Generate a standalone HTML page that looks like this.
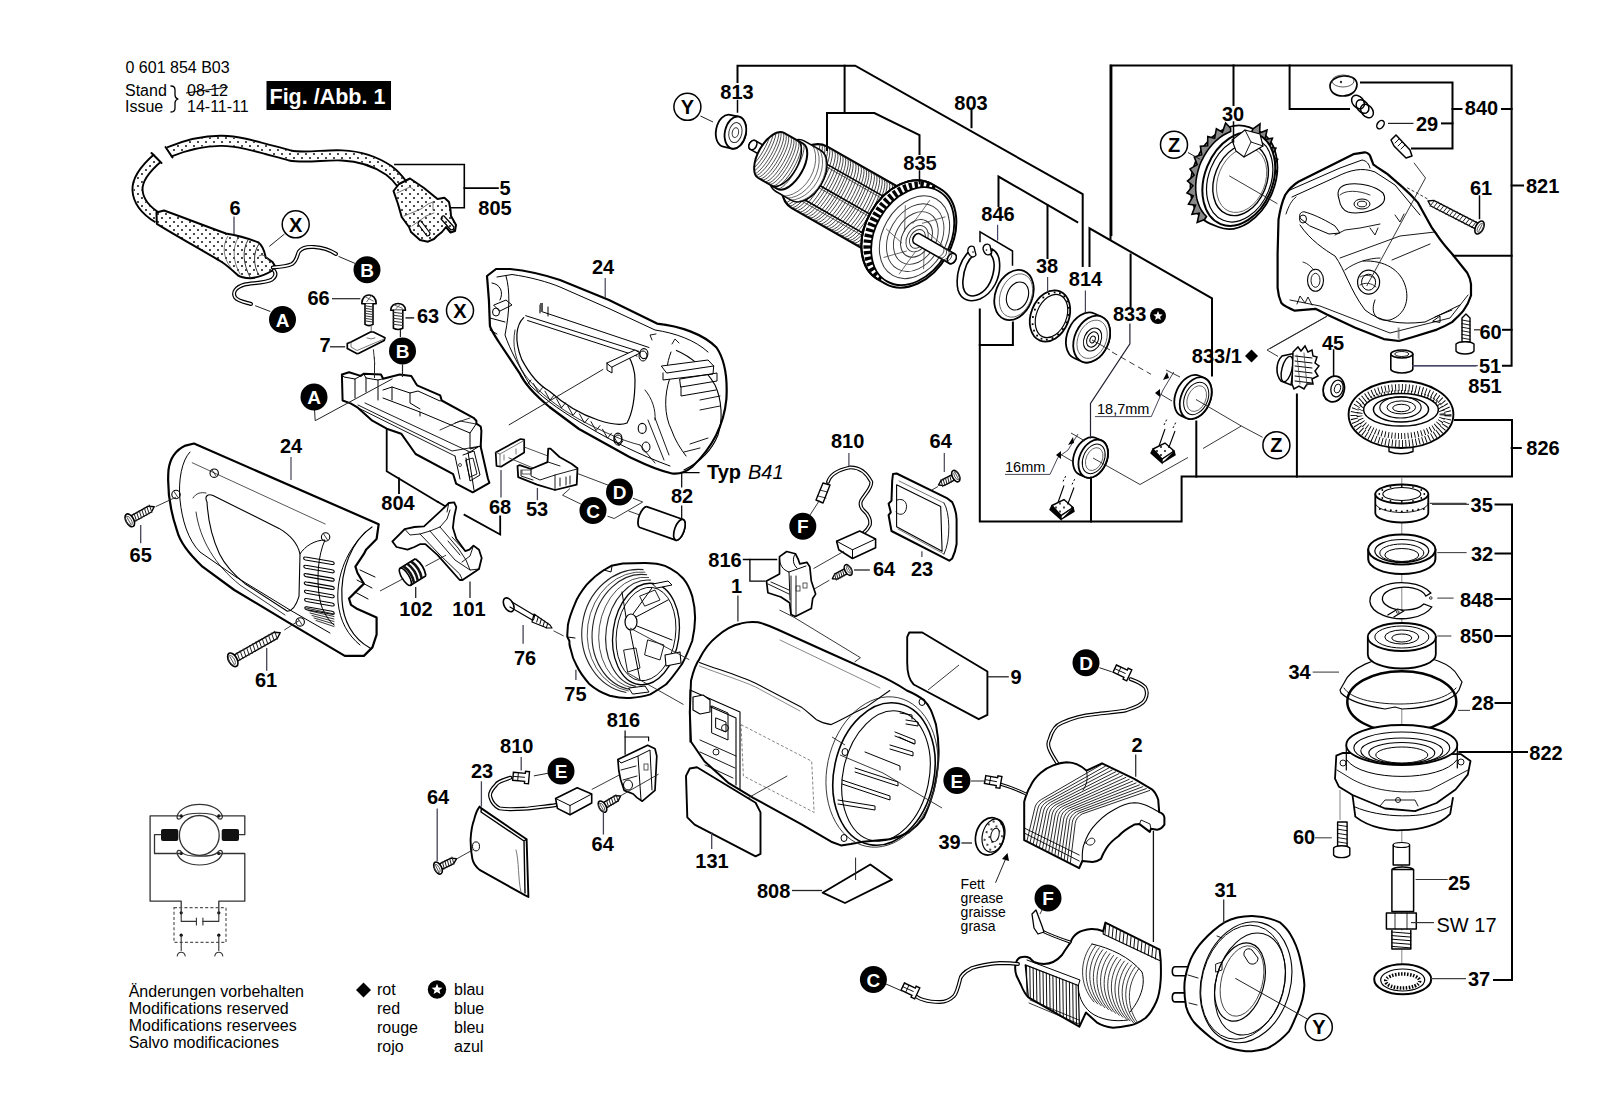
<!DOCTYPE html><html><head><meta charset="utf-8"><style>html,body{margin:0;padding:0;background:#fff;}svg{display:block;}text{font-family:"Liberation Sans",sans-serif;}</style></head><body>
<svg width="1600" height="1107" viewBox="0 0 1600 1107">
<defs>
<pattern id="dots" width="8" height="8" patternUnits="userSpaceOnUse"><circle cx="2" cy="2" r="0.95" fill="#000"/><circle cx="6" cy="6" r="0.95" fill="#000"/></pattern>
<pattern id="dots2" width="8" height="8" patternUnits="userSpaceOnUse"><circle cx="2" cy="2" r="0.95" fill="#000"/><circle cx="6" cy="6" r="0.95" fill="#000"/></pattern>
</defs>
<rect width="1600" height="1107" fill="#fff"/>
<path d="M487,276 L496,269 L510,269 C530,271 548,276 560,280 L609,300 L657,323.6 C680,326 703,334 716.5,347.5 C725,360 727.5,380 726.4,399 C724,425 712,448 692,467 C686,472 680,474.5 672,473.5 C655,470 640,462 629,456.8 L579,429 L549.5,407 C535,395 525,385 519.7,373.3 L499.8,343.5 C493,333 490,328 489.9,325.6 L488.9,299.8 Z" fill="#fff" stroke="#000" stroke-width="2.2" stroke-linejoin="round" stroke-linecap="round" />
<path d="M497,277 L512,274.5 C530,277 548,282 560,287 L610,309 L655,330 C675,333 695,340 708,352" fill="none" stroke="#000" stroke-width="1.0" stroke-linejoin="round" stroke-linecap="round" />
<path d="M506,276 C510,290 510,310 505,335 C510,350 520,368 530,385 C545,400 565,414 590,428 C610,440 640,455 670,466" fill="none" stroke="#000" stroke-width="1.0" stroke-linejoin="round" stroke-linecap="round" />
<path d="M523.7,317.6 C516,325 514,340 521.7,359.4 C530,375 540,386 549.5,391.2 C565,405 580,414 598,420 C610,424 620,426 627,423 C633,412 635,395 635,380 C635,370 632,362 628,355" fill="none" stroke="#000" stroke-width="1.2" stroke-linejoin="round" stroke-linecap="round" />
<path d="M515,330 C512,345 515,360 525,375 C538,392 560,410 590,425 C605,432 620,440 640,445" fill="none" stroke="#000" stroke-width="0.8" stroke-linejoin="round" stroke-linecap="round" />
<path d="M525.7,315.7 L639,351.4 M527.6,320.5 L637,356 M540,311 L649,347.5 M540,305 L540,313 M548,307 L548,316" fill="none" stroke="#000" stroke-width="1.0" stroke-linejoin="round" stroke-linecap="round" />
<path d="M607,363 L635,350 L640,353 L612,367 Z" fill="#fff" stroke="#000" stroke-width="1.0" stroke-linejoin="round" stroke-linecap="round" />
<path d="M607,363 L607,370 L612,373 L612,367" fill="none" stroke="#000" stroke-width="1.0" stroke-linejoin="round" stroke-linecap="round" />
<ellipse cx="643" cy="356" rx="4" ry="5" transform="rotate(0 643 356)" fill="none" stroke="#000" stroke-width="1.0" />
<ellipse cx="646" cy="447" rx="4" ry="5" transform="rotate(0 646 447)" fill="none" stroke="#000" stroke-width="1.0" />
<ellipse cx="618" cy="440" rx="4" ry="5" transform="rotate(0 618 440)" fill="none" stroke="#000" stroke-width="1.0" />
<path d="M492,283 C500,284 504,292 500,300 M494,305 L506,300 L512,305 L500,311 Z" fill="none" stroke="#000" stroke-width="1.0" stroke-linejoin="round" stroke-linecap="round" />
<ellipse cx="496" cy="312" rx="3.5" ry="4" transform="rotate(0 496 312)" fill="none" stroke="#000" stroke-width="1.0" />
<path d="M490,318 L505,322 M490,330 L497,334" fill="none" stroke="#000" stroke-width="1.0" stroke-linejoin="round" stroke-linecap="round" />
<rect x="540" y="303" width="3" height="9" fill="#555"/>
<path d="M522.0,376.0 L527.0,385.0 L531.0,380.0" fill="none" stroke="#000" stroke-width="0.9" stroke-linejoin="round" stroke-linecap="round" />
<path d="M533.5,383.6 L538.5,392.6 L542.5,387.6" fill="none" stroke="#000" stroke-width="0.9" stroke-linejoin="round" stroke-linecap="round" />
<path d="M545.0,391.2 L550.0,400.2 L554.0,395.2" fill="none" stroke="#000" stroke-width="0.9" stroke-linejoin="round" stroke-linecap="round" />
<path d="M556.5,398.8 L561.5,407.8 L565.5,402.8" fill="none" stroke="#000" stroke-width="0.9" stroke-linejoin="round" stroke-linecap="round" />
<path d="M568.0,406.4 L573.0,415.4 L577.0,410.4" fill="none" stroke="#000" stroke-width="0.9" stroke-linejoin="round" stroke-linecap="round" />
<path d="M579.5,414.0 L584.5,423.0 L588.5,418.0" fill="none" stroke="#000" stroke-width="0.9" stroke-linejoin="round" stroke-linecap="round" />
<path d="M591.0,421.6 L596.0,430.6 L600.0,425.6" fill="none" stroke="#000" stroke-width="0.9" stroke-linejoin="round" stroke-linecap="round" />
<path d="M602.5,429.2 L607.5,438.2 L611.5,433.2" fill="none" stroke="#000" stroke-width="0.9" stroke-linejoin="round" stroke-linecap="round" />
<path d="M614.0,436.8 L619.0,445.8 L623.0,440.8" fill="none" stroke="#000" stroke-width="0.9" stroke-linejoin="round" stroke-linecap="round" />
<path d="M676.4,350.4 C690,356 705,368 715,385 C722,400 723,420 718,435 C712,450 700,462 684,470" fill="none" stroke="#000" stroke-width="1.1" stroke-linejoin="round" stroke-linecap="round" />
<path d="M671,352 C666,365 665,380 669.9,378 M669.9,378 C664,395 664,415 671.5,430 C675,440 680,448 686,456" fill="none" stroke="#000" stroke-width="1.0" stroke-linejoin="round" stroke-linecap="round" />
<path d="M661.7,366 L708,360 L713.7,366 L667,373 Z M663,373 L663,380 L713,374 L713.7,366" fill="#fff" stroke="#000" stroke-width="1.0" stroke-linejoin="round" stroke-linecap="round" />
<path d="M680,379 L717,373 L717,381 L681,387 Z M681,387 L681,396 L716,390" fill="none" stroke="#000" stroke-width="1.0" stroke-linejoin="round" stroke-linecap="round" />
<path d="M700,400 L720,396 M700,410 L720,406 M690,444 L708,438 M684,452 L700,448" fill="none" stroke="#000" stroke-width="0.9" stroke-linejoin="round" stroke-linecap="round" />
<path d="M652,340 L650,335 L656,334 M672,344 L675,339 L679,343" fill="none" stroke="#000" stroke-width="0.9" stroke-linejoin="round" stroke-linecap="round" />
<ellipse cx="643.9" cy="353.6" rx="4" ry="5" transform="rotate(0 643.9 353.6)" fill="none" stroke="#000" stroke-width="1.1" />
<ellipse cx="642.2" cy="428.4" rx="4" ry="5" transform="rotate(0 642.2 428.4)" fill="none" stroke="#000" stroke-width="1.1" />
<ellipse cx="617.9" cy="438.1" rx="4" ry="5" transform="rotate(0 617.9 438.1)" fill="none" stroke="#000" stroke-width="1.1" />
<path d="M648,420 L664,460 M655,418 L669,455 M640,445 L655,463" fill="none" stroke="#000" stroke-width="0.9" stroke-linejoin="round" stroke-linecap="round" />
<path d="M645,390 C652,398 656,410 655,420" fill="none" stroke="#000" stroke-width="0.9" stroke-linejoin="round" stroke-linecap="round" />
<path d="M605.2,278.0 L605.2,298.0" fill="none" stroke="#445" stroke-width="1.2" stroke-linecap="butt" />
<path d="M603.2,369.3 L508.8,425.0" fill="none" stroke="#222" stroke-width="1.0" stroke-linecap="butt" />
<path d="M185.5,445.6 L194,443.5 L378.7,524.2 L376.6,539 L366,549.7 L363.9,553.9 L355.4,566.7 L357.5,573 L363.9,583.7 L359.6,587.9 L349,598.5 L351,604.9 L357.5,609.1 L376.6,617.6 L376.6,634.6 L372.4,647.4 L363.9,655.9 L344.8,655.9 L287.4,621.9 L234.3,590 L202.5,566.7 C190,555 180,543 177,530.6 C170,510 167,490 168.5,470 C170,458 176,450 185.5,445.6 Z" fill="#fff" stroke="#000" stroke-width="2.2" stroke-linejoin="round" stroke-linecap="round" />
<path d="M190,452 C182,460 178,480 180,500 C182,520 188,540 200,552 L236,577 L290,610 L330,633" fill="none" stroke="#000" stroke-width="1.0" stroke-linejoin="round" stroke-linecap="round" />
<path d="M207,502 C204,496 208,493.5 213,495.5 L279,528.4 C292,536 298,545 300,553.9 L299,596.4 C296,606 292,611 287.4,611.3 L245,583.7 C232,573 225,565 219.5,553.9 C212,538 208,520 207,502 Z" fill="none" stroke="#000" stroke-width="1.1" stroke-linejoin="round" stroke-linecap="round" />
<path d="M193,498 C196,493 201,492 206,493 M196,512 C200,540 215,565 240,585 L285,615" fill="none" stroke="#000" stroke-width="0.8" stroke-linejoin="round" stroke-linecap="round" />
<path d="M191.9,462.6 L325.6,524.2" fill="none" stroke="#444" stroke-width="0.9" stroke-linecap="butt" />
<ellipse cx="214.2" cy="473.2" rx="4.2" ry="4.2" transform="rotate(0 214.2 473.2)" fill="none" stroke="#000" stroke-width="1.1" />
<path d="M212.2,470.2 L216.2,476.2" fill="none" stroke="#000" stroke-width="0.8" stroke-linejoin="round" stroke-linecap="round" />
<ellipse cx="325.6" cy="537" rx="4.2" ry="4.2" transform="rotate(0 325.6 537)" fill="none" stroke="#000" stroke-width="1.1" />
<path d="M323.6,534 L327.6,540" fill="none" stroke="#000" stroke-width="0.8" stroke-linejoin="round" stroke-linecap="round" />
<ellipse cx="300.2" cy="621.9" rx="4.2" ry="4.2" transform="rotate(0 300.2 621.9)" fill="none" stroke="#000" stroke-width="1.1" />
<path d="M298.2,618.9 L302.2,624.9" fill="none" stroke="#000" stroke-width="0.8" stroke-linejoin="round" stroke-linecap="round" />
<ellipse cx="176" cy="494.5" rx="4.2" ry="4.2" transform="rotate(0 176 494.5)" fill="none" stroke="#000" stroke-width="1.1" />
<path d="M174,491.5 L178,497.5" fill="none" stroke="#000" stroke-width="0.8" stroke-linejoin="round" stroke-linecap="round" />
<path d="M300,553.9 C305,546 315,540 325,540 C318,555 316,580 320,600 C322,612 330,622 334,625" fill="none" stroke="#000" stroke-width="1.0" stroke-linejoin="round" stroke-linecap="round" />
<path d="M305.5,557.0 L332,561.5 C335,562.0 335,565.0 332,564.5 L305.5,560.0 C303.0,559.5 303.0,556.5 305.5,557.0 Z" fill="none" stroke="#000" stroke-width="1.1" stroke-linejoin="round" stroke-linecap="round" />
<path d="M305.7,565.3 L332,569.8 C335,570.3 335,573.3 332,572.8 L305.7,568.3 C303.2,567.8 303.2,564.8 305.7,565.3 Z" fill="none" stroke="#000" stroke-width="1.1" stroke-linejoin="round" stroke-linecap="round" />
<path d="M305.9,573.6 L332,578.1 C335,578.6 335,581.6 332,581.1 L305.9,576.6 C303.4,576.1 303.4,573.1 305.9,573.6 Z" fill="none" stroke="#000" stroke-width="1.1" stroke-linejoin="round" stroke-linecap="round" />
<path d="M306.1,581.9 L332,586.4 C335,586.9 335,589.9 332,589.4 L306.1,584.9 C303.6,584.4 303.6,581.4 306.1,581.9 Z" fill="none" stroke="#000" stroke-width="1.1" stroke-linejoin="round" stroke-linecap="round" />
<path d="M306.3,590.2 L332,594.7 C335,595.2 335,598.2 332,597.7 L306.3,593.2 C303.8,592.7 303.8,589.7 306.3,590.2 Z" fill="none" stroke="#000" stroke-width="1.1" stroke-linejoin="round" stroke-linecap="round" />
<path d="M306.5,598.5 L332,603.0 C335,603.5 335,606.5 332,606.0 L306.5,601.5 C304.0,601.0 304.0,598.0 306.5,598.5 Z" fill="none" stroke="#000" stroke-width="1.1" stroke-linejoin="round" stroke-linecap="round" />
<path d="M306.7,606.8 L332,611.3 C335,611.8 335,614.8 332,614.3 L306.7,609.8 C304.2,609.3 304.2,606.3 306.7,606.8 Z" fill="none" stroke="#000" stroke-width="1.1" stroke-linejoin="round" stroke-linecap="round" />
<path d="M306,608.0 L334,614.0" fill="none" stroke="#000" stroke-width="0.8" stroke-linejoin="round" stroke-linecap="round" />
<path d="M308,610.5 L334,616.5" fill="none" stroke="#000" stroke-width="0.8" stroke-linejoin="round" stroke-linecap="round" />
<path d="M310,613.0 L334,619.0" fill="none" stroke="#000" stroke-width="0.8" stroke-linejoin="round" stroke-linecap="round" />
<path d="M312,615.5 L334,621.5" fill="none" stroke="#000" stroke-width="0.8" stroke-linejoin="round" stroke-linecap="round" />
<path d="M314,618.0 L334,624.0" fill="none" stroke="#000" stroke-width="0.8" stroke-linejoin="round" stroke-linecap="round" />
<path d="M316,620.5 L334,626.5" fill="none" stroke="#000" stroke-width="0.8" stroke-linejoin="round" stroke-linecap="round" />
<path d="M372,527 C352,540 340,570 342,600 C343,620 352,638 370,648" fill="none" stroke="#000" stroke-width="1.2" stroke-linejoin="round" stroke-linecap="round" />
<path d="M366,532 C348,548 336,575 338,602 C340,622 348,635 360,645" fill="none" stroke="#000" stroke-width="1.0" stroke-linejoin="round" stroke-linecap="round" />
<path d="M360,570 L375,577 M357,580 L372,588 M355,592 L368,599" fill="none" stroke="#000" stroke-width="1.0" stroke-linejoin="round" stroke-linecap="round" />
<path d="M291.0,457.0 L291.0,480.0" fill="none" stroke="#445" stroke-width="1.2" stroke-linecap="butt" />
<path d="M341.9,374.5 L349.1,372.3 L360.7,375.9 L363.6,373.7 L381,374.5 L383.1,378.8 L399.7,374.5 L411.3,375.9 L415.6,383.1 L417.1,385.3 L440.2,395.4 L441.7,400.5 L473.5,417.8 L476.4,420.7 L476.4,423.6 L480.7,426.5 L481.4,430.8 L480.7,446.7 L487.9,478.5 L489.4,482.9 L472.7,492.3 L456.1,483.6 L453.2,474.2 L415.6,454 L401.2,433.7 L386.7,428.7 L372.3,420.7 L357.8,407.7 L350.6,403.4 L342.6,400.5 Z" fill="#fff" stroke="#000" stroke-width="2.0" stroke-linejoin="round" stroke-linecap="round" />
<path d="M341.9,374.5 L344,377 L355,379 L355,398 M355,379 L360.7,375.9" fill="none" stroke="#000" stroke-width="1.0" stroke-linejoin="round" stroke-linecap="round" />
<path d="M363.6,373.7 L366,378 L378,380 L383,378.8 M366,378 L366,392 M378,380 L378,400" fill="none" stroke="#000" stroke-width="1.0" stroke-linejoin="round" stroke-linecap="round" />
<path d="M383,390 L392,387 L410,393 L418,391 L440,401 L441.7,400.5 M392,387 L392,400 M410,393 L410,403 L420,409" fill="none" stroke="#000" stroke-width="1.0" stroke-linejoin="round" stroke-linecap="round" />
<path d="M383,398 L420,412 L420,416 M420,412 L470,433 L476.4,423.6 M470,433 L470,449 L481,446" fill="none" stroke="#000" stroke-width="1.0" stroke-linejoin="round" stroke-linecap="round" />
<path d="M358,405 L452,451 L481,446 M357.8,407.7 L455,456 M365,403 L470,452" fill="none" stroke="#000" stroke-width="0.9" stroke-linejoin="round" stroke-linecap="round" />
<path d="M455,456 L460,479 M468,452 L474,490 M470,452 L478,447 M463,455 L474,451 L480,475 L470,481 L466,458" fill="none" stroke="#000" stroke-width="1.0" stroke-linejoin="round" stroke-linecap="round" />
<path d="M466,460 L473,458 L477,474 L470,477 Z" fill="none" stroke="#000" stroke-width="0.9" stroke-linejoin="round" stroke-linecap="round" />
<path d="M440,430 L460,421 L476,424 M455,423 L470,418" fill="none" stroke="#000" stroke-width="0.8" stroke-linejoin="round" stroke-linecap="round" />
<circle cx="460" cy="465" r="1.5" fill="none" stroke="#000" stroke-width="0.7"/>
<path d="M314.5,409.0 L315.2,420.7 L392.5,378.8" fill="none" stroke="#222" stroke-width="1.0" stroke-linecap="butt" />
<path d="M402.5,364.5 L402.5,377.0" fill="none" stroke="#222" stroke-width="1.2" stroke-linecap="butt" />
<path d="M374.5,357.0 L374.5,378.0" fill="none" stroke="#222" stroke-width="1.0" stroke-linecap="butt" />
<path d="M386.7,429.4 L386.7,471.3 L438.0,502.0" fill="none" stroke="#000" stroke-width="1.8" stroke-linejoin="miter" stroke-linecap="square"/>
<path d="M464.5,514.8 L500.2,534.5 L500.2,516.5" fill="none" stroke="#000" stroke-width="1.8" stroke-linejoin="miter" stroke-linecap="square"/>
<path d="M399.0,478.5 L399.0,493.0" fill="none" stroke="#000" stroke-width="1.8" stroke-linejoin="miter" stroke-linecap="square"/>
<path d="M438.0,502.0 L450.0,509.0" fill="none" stroke="#000" stroke-width="1.8" stroke-linejoin="miter" stroke-linecap="square"/>
<path d="M361.8,303.8 C361.8,292 376.2,292 376.2,303.8 Z" fill="#fff" stroke="#000" stroke-width="1.6" stroke-linejoin="round" stroke-linecap="round" />
<path d="M365.4,296.78 L373.32,301.1 M366.84,301.64 L371.16,295.7" fill="none" stroke="#555" stroke-width="0.9" stroke-linejoin="round" stroke-linecap="round" />
<path d="M365.0,303.8 L365.0,324.40000000000003 Q369,326.90000000000003 373.0,324.40000000000003 L373.0,303.8" fill="#fff" stroke="#000" stroke-width="1.6" stroke-linejoin="round" stroke-linecap="round" />
<path d="M365.0,305.8 L373.0,307.0" fill="none" stroke="#333" stroke-width="1.0" stroke-linejoin="round" stroke-linecap="round" />
<path d="M365.0,308.31428571428575 L373.0,309.51428571428573" fill="none" stroke="#333" stroke-width="1.0" stroke-linejoin="round" stroke-linecap="round" />
<path d="M365.0,310.8285714285714 L373.0,312.0285714285714" fill="none" stroke="#333" stroke-width="1.0" stroke-linejoin="round" stroke-linecap="round" />
<path d="M365.0,313.34285714285716 L373.0,314.54285714285714" fill="none" stroke="#333" stroke-width="1.0" stroke-linejoin="round" stroke-linecap="round" />
<path d="M365.0,315.8571428571429 L373.0,317.0571428571429" fill="none" stroke="#333" stroke-width="1.0" stroke-linejoin="round" stroke-linecap="round" />
<path d="M365.0,318.37142857142857 L373.0,319.57142857142856" fill="none" stroke="#333" stroke-width="1.0" stroke-linejoin="round" stroke-linecap="round" />
<path d="M365.0,320.8857142857143 L373.0,322.0857142857143" fill="none" stroke="#333" stroke-width="1.0" stroke-linejoin="round" stroke-linecap="round" />
<path d="M390.70000000000005,310.3 C390.70000000000005,301.3 405.5,301.3 405.5,310.3 Z" fill="#fff" stroke="#000" stroke-width="1.6" stroke-linejoin="round" stroke-linecap="round" />
<path d="M394.40000000000003,305.1 L402.54,308.3 M395.88,308.7 L400.32000000000005,304.3" fill="none" stroke="#555" stroke-width="0.9" stroke-linejoin="round" stroke-linecap="round" />
<path d="M393.40000000000003,310.3 L393.40000000000003,328.3 Q398.1,330.8 402.8,328.3 L402.8,310.3" fill="#fff" stroke="#000" stroke-width="1.6" stroke-linejoin="round" stroke-linecap="round" />
<path d="M393.40000000000003,312.3 L402.8,313.5" fill="none" stroke="#333" stroke-width="1.0" stroke-linejoin="round" stroke-linecap="round" />
<path d="M393.40000000000003,315.3 L402.8,316.5" fill="none" stroke="#333" stroke-width="1.0" stroke-linejoin="round" stroke-linecap="round" />
<path d="M393.40000000000003,318.3 L402.8,319.5" fill="none" stroke="#333" stroke-width="1.0" stroke-linejoin="round" stroke-linecap="round" />
<path d="M393.40000000000003,321.3 L402.8,322.5" fill="none" stroke="#333" stroke-width="1.0" stroke-linejoin="round" stroke-linecap="round" />
<path d="M393.40000000000003,324.3 L402.8,325.5" fill="none" stroke="#333" stroke-width="1.0" stroke-linejoin="round" stroke-linecap="round" />
<path d="M332.0,298.7 L360.3,298.7" fill="none" stroke="#222" stroke-width="1.2" stroke-linecap="butt" />
<path d="M405.5,317.9 L414.2,317.9" fill="none" stroke="#222" stroke-width="1.5" stroke-linecap="butt" />
<path d="M400.4,329.8 L400.4,337.0" fill="none" stroke="#222" stroke-width="1.2" stroke-linecap="butt" />
<path d="M371.2,325.5 L371.2,338.5" fill="none" stroke="#666" stroke-width="1.0" stroke-linecap="butt" />
<path d="M373.4,349.3 L374.8,364.5" fill="none" stroke="#333" stroke-width="1.0" stroke-linecap="butt" />
<path d="M330.0,346.8 L345.2,346.8" fill="none" stroke="#222" stroke-width="1.3" stroke-linecap="butt" />
<path d="M347.3,343.5 L351,342 L370.5,332 L373.4,332 L385,337.7 L384.2,340.6 L358.9,353.3 L356.7,353.6 L347.3,348.6 Z" fill="#fff" stroke="#000" stroke-width="1.7" stroke-linejoin="round" stroke-linecap="round" />
<path d="M351,342 L351,347 L357,350.5 L384,339" fill="none" stroke="#555" stroke-width="0.8" stroke-linejoin="round" stroke-linecap="round" />
<path d="M367,338 Q371,340 375,338" fill="none" stroke="#555" stroke-width="0.8" stroke-linejoin="round" stroke-linecap="round" />
<path d="M448.8,503 L454.2,502.3 L456.3,507.1 L454.2,516.7 L452.9,527.7 L456.3,538.7 L465.2,551.1 L469.4,549.7 L473.5,545.6 L479,549.7 L481.7,558 L479,569 L462.5,580 L459.7,580 L437.7,555.2 L425.4,544.2 L419.9,544.2 L414.4,547 L407.5,549.7 L396.5,547 L392.4,541.5 L404.7,529.1 L414.4,527 L424,526.4 L440.5,511.2 Z" fill="#fff" stroke="#000" stroke-width="1.8" stroke-linejoin="round" stroke-linecap="round" />
<path d="M404.7,529.1 L410,535 L420,534 L430,531 L440,527 L447,519 L450,510 M448.8,503 L447,512" fill="none" stroke="#000" stroke-width="0.9" stroke-linejoin="round" stroke-linecap="round" />
<path d="M420,534 L440,555 L459.7,574 L462.5,580 M430,531 L455,560 L470,570 M440,527 L458,548 L466,560 L470,570 L479,569" fill="none" stroke="#000" stroke-width="0.9" stroke-linejoin="round" stroke-linecap="round" />
<path d="M448,541 L460,555 M452,537 L465,551 M462,562 L470,556 L473.5,545.6" fill="none" stroke="#000" stroke-width="0.9" stroke-linejoin="round" stroke-linecap="round" />
<path d="M425.4,566.2 L446.0,555.2" fill="none" stroke="#222" stroke-width="0.9" stroke-linecap="butt" />
<g transform="translate(413,572) rotate(-32)"><path d="M-9,-8 L9,-8 L9,8 L-9,8 Z" fill="#fff" stroke="none"/><ellipse cx="-9" cy="0" rx="3.5" ry="10" fill="none" stroke="#000" stroke-width="1.6"/><path d="M-9,-10 L9,-10 M-9,10 L9,10" stroke="#000" stroke-width="1.6"/><path d="M-5,-10 Q-1,0 -5,10 M-0.5,-10 Q3.5,0 -0.5,10 M4,-10 Q8,0 4,10" fill="none" stroke="#111" stroke-width="2.6"/><path d="M9,-10 Q13,0 9,10" fill="none" stroke="#000" stroke-width="1.8"/></g>
<path d="M403.4,578.6 L380.0,591.0" fill="none" stroke="#222" stroke-width="0.9" stroke-linecap="butt" />
<path d="M415.7,586.9 L415.7,597.9" fill="none" stroke="#222" stroke-width="1.3" stroke-linecap="butt" />
<path d="M470.0,581.4 L470.0,597.9" fill="none" stroke="#222" stroke-width="1.3" stroke-linecap="butt" />
<path d="M495.7,452.5 L520.5,439 L524.2,439.7 L524.2,452.5 L501,466.7 L496.5,466 Z" fill="#fff" stroke="#000" stroke-width="1.7" stroke-linejoin="round" stroke-linecap="round" />
<path d="M495.7,452.5 L500,454 L500,466 M500,454 L524,440.5" fill="none" stroke="#555" stroke-width="0.8" stroke-linejoin="round" stroke-linecap="round" />
<path d="M504,455 L504,460 M516,449 L516,454" fill="none" stroke="#555" stroke-width="0.8" stroke-linejoin="round" stroke-linecap="round" />
<path d="M508.5,457.7 L533.0,468.0" fill="none" stroke="#222" stroke-width="0.8" stroke-linecap="butt" />
<path d="M524.2,447.0 L548.0,456.0" fill="none" stroke="#222" stroke-width="0.8" stroke-linecap="butt" />
<path d="M501.0,470.0 L501.0,497.5" fill="none" stroke="#445" stroke-width="1.3" stroke-linecap="butt" />
<path d="M517.5,466 L519.7,465.2 L531,469 L547.5,462.2 L548.2,448.7 L550.5,448.7 L559.5,457 L571.5,463.7 L577.5,468.2 L576.7,484.7 L555,490 L537,484.7 L518.2,477.2 Z" fill="#fff" stroke="#000" stroke-width="1.8" stroke-linejoin="round" stroke-linecap="round" />
<path d="M531,469 L531,476 L540,480 L555,475 L577,469 M555,475 L555,490 M521,470 L521,476 L533,480" fill="none" stroke="#000" stroke-width="0.9" stroke-linejoin="round" stroke-linecap="round" />
<path d="M560,478 L560,486 M566,477 L566,485 M570,476 L570,484 M548,462 L560,466" fill="none" stroke="#000" stroke-width="0.9" stroke-linejoin="round" stroke-linecap="round" />
<rect x="522" y="470" width="9" height="4" fill="none" stroke="#333" stroke-width="0.8"/>
<path d="M537.4,487.9 L537.4,500.2" fill="none" stroke="#445" stroke-width="1.3" stroke-linecap="butt" />
<path d="M577.5,473.5 L609.0,485.5" fill="none" stroke="#222" stroke-width="0.9" stroke-linecap="butt" />
<path d="M570.0,488.5 L562.5,495.2 L581.2,504.2" fill="none" stroke="#222" stroke-width="0.9" stroke-linecap="butt" />
<path d="M633.0,498.2 L642.7,502.0 L614.2,518.5 L607.5,516.2" fill="none" stroke="#222" stroke-width="0.9" stroke-linecap="butt" />
<path d="M628.5,511.0 L639.0,514.7" fill="none" stroke="#222" stroke-width="0.9" stroke-linecap="butt" />
<path d="M647.3,506.8 L683.1,519.5 A4.8,11 19.5 0 1 675.7,540.2 L639.9,527.5 A4.8,11 19.5 0 1 647.3,506.8 Z" fill="#fff" stroke="#000" stroke-width="1.8" stroke-linejoin="round" stroke-linecap="round" />
<ellipse cx="679.4" cy="529.8" rx="4.8" ry="11" transform="rotate(19.5 679.4 529.8)" fill="#fff" stroke="#000" stroke-width="1.7" />
<path d="M681.7,487.0 L681.7,472.7 L699.0,472.7" fill="none" stroke="#000" stroke-width="1.2" stroke-linejoin="miter" stroke-linecap="square"/>
<path d="M681.7,506.0 L681.7,518.0" fill="none" stroke="#000" stroke-width="1.2" stroke-linejoin="miter" stroke-linecap="square"/>
<path d="M611.3,565.8 L604,570 C596,575 591,580 586.7,584.6 C580,593 577,598 575.1,603.4 C571,613 569,619 567.9,625 L567.2,636.6 L569.4,641 C569,645 570,647 570.8,649.6 C572,656 574,661 576.6,665.5 C580,673 585,679 589.6,684.3 C596,690 602,693 609.8,695.8 C617,697.5 623,698.5 630,698 C637,697.5 644,696.5 650.3,694.4 C656,691 661,688 666.2,684.3 C672,678 677,671 682,664 C686,657 689,649 692.2,641 C694,633 695,626 695.1,617.8 C695,610 694,603 692.2,596.1 C690,589 687,583 683.5,578.8 C679,574 675,571 670.5,568.7 C667,566.5 663,565 659,564.3 C654,563 649,563 644.5,562.9 L622.8,563.6 Z" fill="#fff" stroke="#000" stroke-width="2.0" stroke-linejoin="round" stroke-linecap="round" />
<ellipse cx="646" cy="634" rx="33" ry="51" transform="rotate(8 646 634)" fill="none" stroke="#000" stroke-width="1.3" />
<ellipse cx="646" cy="634" rx="29.5" ry="47" transform="rotate(8 646 634)" fill="none" stroke="#000" stroke-width="0.9" />
<path d="M650.8,580.1 A38.4,53.7 8 0 0 635.8,686.4" fill="none" stroke="#222" stroke-width="1.1"/>
<path d="M649.0,577.5 A42.6,55.8 8 0 0 633.4,688.0" fill="none" stroke="#222" stroke-width="0.8"/>
<path d="M647.1,574.8 A46.8,57.9 8 0 0 631.1,689.5" fill="none" stroke="#222" stroke-width="1.1"/>
<path d="M645.3,572.2 A51.0,60.0 8 0 0 628.7,691.0" fill="none" stroke="#222" stroke-width="0.8"/>
<path d="M643.5,569.6 A55.2,62.1 8 0 0 626.3,692.5" fill="none" stroke="#222" stroke-width="1.1"/>
<ellipse cx="631" cy="622" rx="6" ry="8" transform="rotate(0 631 622)" fill="#fff" stroke="#000" stroke-width="1.2" />
<path d="M636,617 L668,600 M637,626 L672,640 M630,630 L640,680 M626,617 L622,592 M633,614 L652,588" fill="none" stroke="#000" stroke-width="1.0" stroke-linejoin="round" stroke-linecap="round" />
<path d="M640,596 L655,590 L660,600 L645,606 Z M648,640 L664,645 L660,660 L645,655 Z M624,650 L636,648 L640,668 L628,672 Z" fill="none" stroke="#000" stroke-width="0.9" stroke-linejoin="round" stroke-linecap="round" />
<path d="M653,584 L668,581 L672,585 L657,588 Z M629,688 L645,686 L649,692 L633,694 Z" fill="#fff" stroke="#000" stroke-width="1.0" stroke-linejoin="round" stroke-linecap="round" />
<path d="M665,655 L680,652 L681,663 L666,666 Z" fill="#fff" stroke="#000" stroke-width="1.1" stroke-linejoin="round" stroke-linecap="round" />
<path d="M567.5,637 L575,638 M604,570 L611,572 L612,566" fill="none" stroke="#000" stroke-width="1.0" stroke-linejoin="round" stroke-linecap="round" />
<ellipse cx="508.7" cy="604.8" rx="4.5" ry="7.5" transform="rotate(-30 508.7 604.8)" fill="#fff" stroke="#000" stroke-width="1.6" />
<path d="M512,602 L537,617 M510,607 L534,621" fill="none" stroke="#000" stroke-width="1.2" stroke-linejoin="round" stroke-linecap="round" />
<path d="M534,614 L550,625 L552,628 L547,628 L532,622 Z" fill="#fff" stroke="#000" stroke-width="1.2" stroke-linejoin="round" stroke-linecap="round" />
<path d="M535.0,615 L533.5,620" fill="none" stroke="#000" stroke-width="1.0" stroke-linejoin="round" stroke-linecap="round" />
<path d="M538.2,617 L536.7,622" fill="none" stroke="#000" stroke-width="1.0" stroke-linejoin="round" stroke-linecap="round" />
<path d="M541.4,619 L539.9,624" fill="none" stroke="#000" stroke-width="1.0" stroke-linejoin="round" stroke-linecap="round" />
<path d="M544.6,621 L543.1,626" fill="none" stroke="#000" stroke-width="1.0" stroke-linejoin="round" stroke-linecap="round" />
<path d="M547.8,623 L546.3,628" fill="none" stroke="#000" stroke-width="1.0" stroke-linejoin="round" stroke-linecap="round" />
<path d="M523.1,625.0 L523.1,643.8" fill="none" stroke="#445" stroke-width="1.3" stroke-linecap="butt" />
<path d="M575.9,669.8 L575.9,680.0" fill="none" stroke="#445" stroke-width="1.3" stroke-linecap="butt" />
<path d="M553.5,630.8 L563.6,635.9" fill="none" stroke="#222" stroke-width="0.9" stroke-linecap="butt" />
<path d="M630.0,628.0 L689.3,659.7" fill="none" stroke="#222" stroke-width="0.9" stroke-linecap="butt" />
<path d="M627.2,672.7 L683.5,704.5" fill="none" stroke="#222" stroke-width="0.9" stroke-linecap="butt" />
<path d="M691,680.7 C693,672 695,665 699.5,658.8 C705,648 710,642 716.6,636.8 C725,629 733,625 741,623.4 C748,621.5 752,621.5 758,622.2 C765,624 770,626 777.6,629.5 L826.3,651.5 L875.1,673.4 C890,680 900,686 906.8,690.5 C915,694 920,697 923.9,700.2 C930,706 932,712 936,724.6 C938,735 939,745 938.5,756.3 C938,770 936,780 933.7,790.5 C931,800 928,809 923.9,817.3 C918,825 913,829 909.3,832 C902,836 896,838 889.8,839.3 L862.9,841.7 L850.7,844.1 L841,845.4 L831.2,841.7 L802,824.6 L753.2,797.8 L728.8,783.2 L704.4,761.2 L691,741.7 L689.8,712.4 Z" fill="#fff" stroke="#000" stroke-width="2.0" stroke-linejoin="round" stroke-linecap="round" />
<ellipse cx="884" cy="774" rx="50" ry="72" transform="rotate(12 884 774)" fill="none" stroke="#000" stroke-width="1.6" />
<ellipse cx="886" cy="776" rx="43" ry="66" transform="rotate(12 886 776)" fill="none" stroke="#000" stroke-width="1.1" />
<ellipse cx="882" cy="772" rx="55" ry="76" transform="rotate(12 882 772)" fill="none" stroke="#333" stroke-width="0.9" />
<ellipse cx="922" cy="702" rx="3" ry="3.5" transform="rotate(0 922 702)" fill="none" stroke="#000" stroke-width="1.0" />
<ellipse cx="844" cy="838" rx="3" ry="3.5" transform="rotate(0 844 838)" fill="none" stroke="#000" stroke-width="1.0" />
<ellipse cx="845" cy="752" rx="3" ry="3.5" transform="rotate(0 845 752)" fill="none" stroke="#000" stroke-width="1.0" />
<path d="M699.5,662.4 C720,670 740,676 755.6,683.2 L802,707.6 C808,712 812,716 816.6,719.8 C822,723 826,724 831.2,724.6 C845,718 855,712 865.4,707.6 L889.8,690.5" fill="none" stroke="#000" stroke-width="1.1" stroke-linejoin="round" stroke-linecap="round" />
<path d="M699.5,666 C720,674 740,680 755.6,687 L800,711" fill="none" stroke="#555" stroke-width="0.7" stroke-linejoin="round" stroke-linecap="round" />
<path d="M780,640 L880,688" fill="none" stroke="#555" stroke-width="0.7" stroke-linejoin="round" stroke-linecap="round" />
<path d="M741,724.6 L811.7,761.2 L814.1,812.4 L743.4,775.9 Z" fill="none" stroke="#777" stroke-width="0.9" stroke-dasharray="3,2"/>
<path d="M690,690 L740,712 L740,790 M690,690 L690,742 M695,700 L736,718 L736,785" fill="none" stroke="#000" stroke-width="1.1" stroke-linejoin="round" stroke-linecap="round" />
<path d="M693,697 L703,695 L710,700 L710,712 L700,714 L693,710 Z" fill="#fff" stroke="#000" stroke-width="1.2" stroke-linejoin="round" stroke-linecap="round" />
<path d="M712,706 L728,713 L728,740 L712,733 Z M716,718 L726,722 L726,732 L716,728 Z" fill="none" stroke="#000" stroke-width="1.0" stroke-linejoin="round" stroke-linecap="round" />
<path d="M700,740 L736,756 M700,752 L735,768 M705,765 L733,778" fill="none" stroke="#000" stroke-width="0.9" stroke-linejoin="round" stroke-linecap="round" />
<circle cx="725" cy="728" r="3.5" fill="none" stroke="#000" stroke-width="0.9"/>
<circle cx="716" cy="752" r="3" fill="none" stroke="#000" stroke-width="0.9"/>
<path d="M906,720 L918,722 L918,726 L906,724" fill="none" stroke="#000" stroke-width="1.0" stroke-linejoin="round" stroke-linecap="round" />
<path d="M895,732 L915,740 L915,744 L895,736" fill="none" stroke="#000" stroke-width="1.0" stroke-linejoin="round" stroke-linecap="round" />
<path d="M890,745 L913,752 L913,756 L890,749" fill="none" stroke="#000" stroke-width="1.0" stroke-linejoin="round" stroke-linecap="round" />
<path d="M855,768 L898,782 L898,786 L855,772" fill="none" stroke="#000" stroke-width="1.0" stroke-linejoin="round" stroke-linecap="round" />
<path d="M842,780 L890,796 L890,800 L842,784" fill="none" stroke="#000" stroke-width="1.0" stroke-linejoin="round" stroke-linecap="round" />
<path d="M838,800 L875,806 L875,810 L838,804" fill="none" stroke="#000" stroke-width="1.0" stroke-linejoin="round" stroke-linecap="round" />
<path d="M900,713 L912,715 L912,719 M899,737 L914,744 M865,752 L900,766 L900,770" fill="none" stroke="#000" stroke-width="1.0" stroke-linejoin="round" stroke-linecap="round" />
<path d="M748.3,797.8 L787.3,775.9" fill="none" stroke="#222" stroke-width="0.9" stroke-linecap="butt" />
<path d="M832.0,737.0 L845.0,745.0" fill="none" stroke="#222" stroke-width="0.9" stroke-linecap="butt" />
<path d="M840.0,755.0 L883.0,773.0 L942.0,808.0" fill="none" stroke="#222" stroke-width="0.9" stroke-linecap="butt" />
<path d="M909.3,632.5 L922.3,632.5 L987.4,671.5 L987.4,714.9 L978.7,719.2 L913.7,684.5 C909,680 907.2,672 907.2,662.8 L907.2,636.8 Z" fill="#fff" stroke="#000" stroke-width="1.9" stroke-linejoin="round" stroke-linecap="round" />
<path d="M988.0,676.8 L1008.8,676.8" fill="none" stroke="#222" stroke-width="1.3" stroke-linecap="butt" />
<path d="M959.0,665.0 L928.0,690.0" fill="none" stroke="#222" stroke-width="0.9" stroke-linecap="butt" />
<path d="M689.8,768.5 L697,767.3 L755.6,802.7 L760.5,812.4 L760.5,853.9 L755.6,856.3 L694.6,824.6 L687.3,817.3 L686,775.9 Z" fill="#fff" stroke="#000" stroke-width="1.9" stroke-linejoin="round" stroke-linecap="round" />
<path d="M711.7,832.0 L711.7,849.0" fill="none" stroke="#445" stroke-width="1.3" stroke-linecap="butt" />
<path d="M822.6,892.7 L870.3,864.5 L892,879.7 L845,903 Z" fill="#fff" stroke="#000" stroke-width="1.9" stroke-linejoin="round" stroke-linecap="round" />
<path d="M855.6,857.6 L855.6,880.0" fill="none" stroke="#222" stroke-width="1.0" stroke-linecap="butt" />
<path d="M792.0,890.5 L822.0,890.5" fill="none" stroke="#222" stroke-width="1.3" stroke-linecap="butt" />
<path d="M828,481.9 C830,475 838,470 849.6,467.5 C858,467 866,472 871.3,481.9 C872,488 864,495 861.2,500.7 C859,506 862,509 864,510.8 C869,515 871,521 869.8,525 C868,529 866,531 864,532.5" fill="none" stroke="#000" stroke-width="3.8" stroke-linecap="round"/>
<path d="M828,481.9 C830,475 838,470 849.6,467.5 C858,467 866,472 871.3,481.9 C872,488 864,495 861.2,500.7 C859,506 862,509 864,510.8 C869,515 871,521 869.8,525 C868,529 866,531 864,532.5" fill="none" stroke="#fff" stroke-width="1.5" stroke-linecap="round"/>
<path d="M816,500 L823,483 L830,485 L823,503 Z" fill="#fff" stroke="#000" stroke-width="1.4" stroke-linejoin="round" stroke-linecap="round" />
<path d="M818,496 L826,498 M820,490 L827,492" fill="none" stroke="#000" stroke-width="0.8" stroke-linejoin="round" stroke-linecap="round" />
<path d="M819.3,500.7 L809.9,515.2" fill="none" stroke="#222" stroke-width="0.9" stroke-linecap="butt" />
<path d="M848.9,453.0 L848.9,466.0" fill="none" stroke="#445" stroke-width="1.2" stroke-linecap="butt" />
<path d="M836.6,541.2 L859.7,531 L875.6,539 L875.6,547.7 L852.5,558.5 L838.8,549.8 Z" fill="#fff" stroke="#000" stroke-width="1.6" stroke-linejoin="round" stroke-linecap="round" />
<path d="M836.6,541.2 L852.5,549.8 L875.6,539 M852.5,549.8 L852.5,558.5" fill="none" stroke="#000" stroke-width="1.0" stroke-linejoin="round" stroke-linecap="round" />
<path d="M843.8,551.3 L813.5,568.6" fill="none" stroke="#222" stroke-width="0.9" stroke-linecap="butt" />
<path d="M893,474 L896.6,473.5 L946.4,497.8 L952.2,502.1 C955,508 956.6,513 956.6,519.5 L956.6,544 C955.5,551 954,555 952.2,558.5 L949.3,560.7 L894.4,532.5 L891.5,531 L888.6,515.2 L890.8,512.3 L888.6,503.6 L891.5,500.7 L892.2,480.5 Z" fill="#fff" stroke="#000" stroke-width="2.0" stroke-linejoin="round" stroke-linecap="round" />
<path d="M896.6,484.8 L940.7,506.5 L942.1,551.3 L896.6,526.7 Z" fill="none" stroke="#000" stroke-width="1.1" stroke-linejoin="round" stroke-linecap="round" />
<path d="M899,481 L944,503 M898,529 L944,554" fill="none" stroke="#555" stroke-width="0.8" stroke-linejoin="round" stroke-linecap="round" />
<path d="M944,503 C950,512 951,540 944,554" fill="none" stroke="#000" stroke-width="0.9" stroke-linejoin="round" stroke-linecap="round" />
<path d="M897,500 C905,497 909,505 905,512 C902,516 897,514 896,512" fill="none" stroke="#000" stroke-width="0.9" stroke-linejoin="round" stroke-linecap="round" />
<path d="M951.7,474.9 L941.1,480.3 L938.5,485.0 L943.9,485.6 L954.4,480.2 Z" fill="#fff" stroke="#000" stroke-width="1.4" stroke-linejoin="round" stroke-linecap="round" />
<path d="M949.7,475.4 L951.5,482.2" fill="none" stroke="#222" stroke-width="1.0" stroke-linejoin="round" stroke-linecap="round" />
<path d="M947.5,476.5 L949.3,483.3" fill="none" stroke="#222" stroke-width="1.0" stroke-linejoin="round" stroke-linecap="round" />
<path d="M945.3,477.6 L947.1,484.4" fill="none" stroke="#222" stroke-width="1.0" stroke-linejoin="round" stroke-linecap="round" />
<path d="M943.1,478.8 L944.9,485.6" fill="none" stroke="#222" stroke-width="1.0" stroke-linejoin="round" stroke-linecap="round" />
<path d="M940.9,479.9 L942.7,486.7" fill="none" stroke="#222" stroke-width="1.0" stroke-linejoin="round" stroke-linecap="round" />
<ellipse cx="955.8" cy="476.1" rx="3.4100000000000006" ry="6.2" transform="rotate(152.7764056453584 955.8 476.1)" fill="#fff" stroke="#000" stroke-width="1.6" />
<ellipse cx="956.6892280653351" cy="475.64253585078137" rx="2.17" ry="4.34" transform="rotate(152.7764056453584 956.6892280653351 475.64253585078137)" fill="none" stroke="#444" stroke-width="0.8" />
<path d="M958.1,478.4 L955.3,472.9" fill="none" stroke="#444" stroke-width="0.9" stroke-linejoin="round" stroke-linecap="round" />
<path d="M944.3,453.0 L944.3,472.0" fill="none" stroke="#445" stroke-width="1.2" stroke-linecap="butt" />
<path d="M938.0,486.5 L932.0,489.9" fill="none" stroke="#222" stroke-width="0.9" stroke-linecap="butt" />
<path d="M921.9,551.3 L921.9,557.0" fill="none" stroke="#445" stroke-width="1.2" stroke-linecap="butt" />
<path d="M844.3,568.9 L834.6,574.2 L832.3,578.7 L837.3,579.1 L847.0,573.8 Z" fill="#fff" stroke="#000" stroke-width="1.4" stroke-linejoin="round" stroke-linecap="round" />
<path d="M842.4,569.5 L844.1,575.9" fill="none" stroke="#222" stroke-width="1.0" stroke-linejoin="round" stroke-linecap="round" />
<path d="M840.4,570.6 L842.2,577.0" fill="none" stroke="#222" stroke-width="1.0" stroke-linejoin="round" stroke-linecap="round" />
<path d="M838.4,571.7 L840.2,578.1" fill="none" stroke="#222" stroke-width="1.0" stroke-linejoin="round" stroke-linecap="round" />
<path d="M836.4,572.8 L838.2,579.1" fill="none" stroke="#222" stroke-width="1.0" stroke-linejoin="round" stroke-linecap="round" />
<path d="M834.5,573.8 L836.3,580.2" fill="none" stroke="#222" stroke-width="1.0" stroke-linejoin="round" stroke-linecap="round" />
<ellipse cx="848.2" cy="570" rx="3.19" ry="5.8" transform="rotate(151.31385242626058 848.2 570)" fill="#fff" stroke="#000" stroke-width="1.6" />
<ellipse cx="849.0772622419186" cy="569.5199885846106" rx="2.03" ry="4.06" transform="rotate(151.31385242626058 849.0772622419186 569.5199885846106)" fill="none" stroke="#444" stroke-width="0.8" />
<path d="M850.5,572.1 L847.7,567.0" fill="none" stroke="#444" stroke-width="0.9" stroke-linejoin="round" stroke-linecap="round" />
<path d="M854.0,570.0 L869.8,570.0" fill="none" stroke="#222" stroke-width="1.3" stroke-linecap="butt" />
<path d="M829.4,580.2 L812.0,590.3" fill="none" stroke="#222" stroke-width="0.9" stroke-linecap="butt" />
<path d="M779.5,556.6 L786.7,551.5 L795.4,553.7 L798.3,559.5 L799.7,563.8 L806.9,562.3 L809.8,566.7 L811.3,581.1 L815.6,594.1 L812.7,598.5 L811.3,608.6 L795.4,616.5 L791,614.4 L789.6,602.8 L780.9,597 L767.9,592.7 L766.5,581.1 L779.5,573.9 Z" fill="#fff" stroke="#000" stroke-width="1.7" stroke-linejoin="round" stroke-linecap="round" />
<path d="M779.5,556.6 C779,565 783,570 789,572 L790,600 M789,572 L806,566 M795.4,553.7 C792,558 793,565 797,568" fill="none" stroke="#000" stroke-width="1.0" stroke-linejoin="round" stroke-linecap="round" />
<path d="M768,584 L789,594 M771,582 L789,590 M791,576 L791,614 M796,576 L796,616" fill="none" stroke="#000" stroke-width="0.9" stroke-linejoin="round" stroke-linecap="round" />
<rect x="796" y="586" width="4" height="5" fill="none" stroke="#333" stroke-width="0.8"/>
<rect x="803" y="583" width="4" height="5" fill="none" stroke="#333" stroke-width="0.8"/>
<path d="M743.4,559.5 L776.6,559.5" fill="none" stroke="#000" stroke-width="1.3" stroke-linejoin="miter" stroke-linecap="square"/>
<path d="M749.9,559.5 L749.9,581.1 L765.0,581.1" fill="none" stroke="#000" stroke-width="1.3" stroke-linejoin="miter" stroke-linecap="square"/>
<path d="M779.5,610.0 L794.0,617.3 L860.4,657.7 L854.6,662.0" fill="none" stroke="#222" stroke-width="0.9" stroke-linecap="butt" />
<path d="M737.9,595.6 L737.9,621.6" fill="none" stroke="#333" stroke-width="1.3" stroke-linecap="butt" />
<path d="M755.4,140.7 L775.3,152.1 A3.6,5 29.7 0 1 770.4,160.8 L750.4,149.4 A3.6,5 29.7 0 1 755.4,140.7 Z" fill="#fff" stroke="#000" stroke-width="1.6" stroke-linejoin="round" stroke-linecap="round" />
<ellipse cx="752.9" cy="145.0" rx="3.6" ry="5" transform="rotate(29.7 752.9 145.0)" fill="#fff" stroke="#000" stroke-width="1.6"/>
<clipPath id="clipcore"><path d="M826.9,146.4 L898.2,187.0 A25.5,35.5 29.7 0 1 863.0,248.7 L791.8,208.1 A25.5,35.5 29.7 0 1 826.9,146.4 Z"/></clipPath>
<path d="M826.9,146.4 L898.2,187.0 A25.5,35.5 29.7 0 1 863.0,248.7 L791.8,208.1 A25.5,35.5 29.7 0 1 826.9,146.4 Z" fill="#fff" stroke="#000" stroke-width="2.2" stroke-linejoin="round" stroke-linecap="round" />
<g clip-path="url(#clipcore)">
<path d="M818.3,141.4 A9,35.5 29.7 0 1 783.1,203.1" fill="none" stroke="#222" stroke-width="0.85" stroke-linejoin="round" stroke-linecap="round" />
<path d="M820.9,142.9 A9,35.5 29.7 0 1 785.7,204.6" fill="none" stroke="#222" stroke-width="0.85" stroke-linejoin="round" stroke-linecap="round" />
<path d="M823.5,144.4 A9,35.5 29.7 0 1 788.3,206.1" fill="none" stroke="#222" stroke-width="0.85" stroke-linejoin="round" stroke-linecap="round" />
<path d="M826.1,145.9 A9,35.5 29.7 0 1 790.9,207.6" fill="none" stroke="#222" stroke-width="0.85" stroke-linejoin="round" stroke-linecap="round" />
<path d="M828.7,147.4 A9,35.5 29.7 0 1 793.5,209.0" fill="none" stroke="#222" stroke-width="0.85" stroke-linejoin="round" stroke-linecap="round" />
<path d="M831.3,148.9 A9,35.5 29.7 0 1 796.1,210.5" fill="none" stroke="#222" stroke-width="0.85" stroke-linejoin="round" stroke-linecap="round" />
<path d="M833.9,150.3 A9,35.5 29.7 0 1 798.7,212.0" fill="none" stroke="#222" stroke-width="0.85" stroke-linejoin="round" stroke-linecap="round" />
<path d="M836.5,151.8 A9,35.5 29.7 0 1 801.3,213.5" fill="none" stroke="#222" stroke-width="0.85" stroke-linejoin="round" stroke-linecap="round" />
<path d="M839.1,153.3 A9,35.5 29.7 0 1 803.9,215.0" fill="none" stroke="#222" stroke-width="0.85" stroke-linejoin="round" stroke-linecap="round" />
<path d="M841.7,154.8 A9,35.5 29.7 0 1 806.5,216.5" fill="none" stroke="#222" stroke-width="0.85" stroke-linejoin="round" stroke-linecap="round" />
<path d="M844.3,156.3 A9,35.5 29.7 0 1 809.1,218.0" fill="none" stroke="#222" stroke-width="0.85" stroke-linejoin="round" stroke-linecap="round" />
<path d="M846.9,157.8 A9,35.5 29.7 0 1 811.7,219.5" fill="none" stroke="#222" stroke-width="0.85" stroke-linejoin="round" stroke-linecap="round" />
<path d="M849.5,159.3 A9,35.5 29.7 0 1 814.4,220.9" fill="none" stroke="#222" stroke-width="0.85" stroke-linejoin="round" stroke-linecap="round" />
<path d="M852.1,160.8 A9,35.5 29.7 0 1 817.0,222.4" fill="none" stroke="#222" stroke-width="0.85" stroke-linejoin="round" stroke-linecap="round" />
<path d="M854.7,162.2 A9,35.5 29.7 0 1 819.6,223.9" fill="none" stroke="#222" stroke-width="0.85" stroke-linejoin="round" stroke-linecap="round" />
<path d="M857.3,163.7 A9,35.5 29.7 0 1 822.2,225.4" fill="none" stroke="#222" stroke-width="0.85" stroke-linejoin="round" stroke-linecap="round" />
<path d="M860.0,165.2 A9,35.5 29.7 0 1 824.8,226.9" fill="none" stroke="#222" stroke-width="0.85" stroke-linejoin="round" stroke-linecap="round" />
<path d="M862.6,166.7 A9,35.5 29.7 0 1 827.4,228.4" fill="none" stroke="#222" stroke-width="0.85" stroke-linejoin="round" stroke-linecap="round" />
<path d="M865.2,168.2 A9,35.5 29.7 0 1 830.0,229.9" fill="none" stroke="#222" stroke-width="0.85" stroke-linejoin="round" stroke-linecap="round" />
<path d="M867.8,169.7 A9,35.5 29.7 0 1 832.6,231.3" fill="none" stroke="#222" stroke-width="0.85" stroke-linejoin="round" stroke-linecap="round" />
<path d="M870.4,171.2 A9,35.5 29.7 0 1 835.2,232.8" fill="none" stroke="#222" stroke-width="0.85" stroke-linejoin="round" stroke-linecap="round" />
<path d="M873.0,172.6 A9,35.5 29.7 0 1 837.8,234.3" fill="none" stroke="#222" stroke-width="0.85" stroke-linejoin="round" stroke-linecap="round" />
<path d="M875.6,174.1 A9,35.5 29.7 0 1 840.4,235.8" fill="none" stroke="#222" stroke-width="0.85" stroke-linejoin="round" stroke-linecap="round" />
<path d="M878.2,175.6 A9,35.5 29.7 0 1 843.0,237.3" fill="none" stroke="#222" stroke-width="0.85" stroke-linejoin="round" stroke-linecap="round" />
<path d="M880.8,177.1 A9,35.5 29.7 0 1 845.6,238.8" fill="none" stroke="#222" stroke-width="0.85" stroke-linejoin="round" stroke-linecap="round" />
<path d="M883.4,178.6 A9,35.5 29.7 0 1 848.2,240.3" fill="none" stroke="#222" stroke-width="0.85" stroke-linejoin="round" stroke-linecap="round" />
<path d="M886.0,180.1 A9,35.5 29.7 0 1 850.8,241.7" fill="none" stroke="#222" stroke-width="0.85" stroke-linejoin="round" stroke-linecap="round" />
<path d="M888.6,181.6 A9,35.5 29.7 0 1 853.4,243.2" fill="none" stroke="#222" stroke-width="0.85" stroke-linejoin="round" stroke-linecap="round" />
<path d="M891.2,183.0 A9,35.5 29.7 0 1 856.0,244.7" fill="none" stroke="#222" stroke-width="0.85" stroke-linejoin="round" stroke-linecap="round" />
<path d="M893.8,184.5 A9,35.5 29.7 0 1 858.7,246.2" fill="none" stroke="#222" stroke-width="0.85" stroke-linejoin="round" stroke-linecap="round" />
<path d="M896.4,186.0 A9,35.5 29.7 0 1 861.3,247.7" fill="none" stroke="#222" stroke-width="0.85" stroke-linejoin="round" stroke-linecap="round" />
<path d="M899.0,187.5 A9,35.5 29.7 0 1 863.9,249.2" fill="none" stroke="#222" stroke-width="0.85" stroke-linejoin="round" stroke-linecap="round" />
<path d="M901.6,189.0 A9,35.5 29.7 0 1 866.5,250.7" fill="none" stroke="#222" stroke-width="0.85" stroke-linejoin="round" stroke-linecap="round" />
<path d="M817.5,158.9 L895.7,203.4" fill="none" stroke="#000" stroke-width="1.6" stroke-linejoin="round" stroke-linecap="round" />
<path d="M816.3,161.0 L894.5,205.6" fill="none" stroke="#333" stroke-width="0.8" stroke-linejoin="round" stroke-linecap="round" />
<path d="M806.6,178.0 L884.8,222.6" fill="none" stroke="#000" stroke-width="1.6" stroke-linejoin="round" stroke-linecap="round" />
<path d="M805.4,180.1 L883.6,224.7" fill="none" stroke="#333" stroke-width="0.8" stroke-linejoin="round" stroke-linecap="round" />
<path d="M796.7,195.3 L874.9,239.9" fill="none" stroke="#000" stroke-width="1.6" stroke-linejoin="round" stroke-linecap="round" />
<path d="M795.5,197.5 L873.7,242.1" fill="none" stroke="#333" stroke-width="0.8" stroke-linejoin="round" stroke-linecap="round" />
</g>
<clipPath id="clipwind"><path d="M804.6,141.1 L820.2,150.0 A18,29 29.7 0 1 791.5,200.4 L775.9,191.5 A18,29 29.7 0 1 804.6,141.1 Z"/></clipPath>
<path d="M804.6,141.1 L820.2,150.0 A18,29 29.7 0 1 791.5,200.4 L775.9,191.5 A18,29 29.7 0 1 804.6,141.1 Z" fill="#fff" stroke="#000" stroke-width="1.6" stroke-linejoin="round" stroke-linecap="round" />
<g clip-path="url(#clipwind)">
<path d="M806.1,138.5 A23,32 29.7 0 1 774.4,194.1" fill="none" stroke="#444" stroke-width="0.8" stroke-linejoin="round" stroke-linecap="round" />
<path d="M809.6,140.5 A23,32 29.7 0 1 777.9,196.1" fill="none" stroke="#444" stroke-width="0.8" stroke-linejoin="round" stroke-linecap="round" />
<path d="M813.0,142.5 A23,32 29.7 0 1 781.3,198.1" fill="none" stroke="#444" stroke-width="0.8" stroke-linejoin="round" stroke-linecap="round" />
<path d="M816.5,144.5 A23,32 29.7 0 1 784.8,200.1" fill="none" stroke="#444" stroke-width="0.8" stroke-linejoin="round" stroke-linecap="round" />
<path d="M820.0,146.4 A23,32 29.7 0 1 788.3,202.0" fill="none" stroke="#444" stroke-width="0.8" stroke-linejoin="round" stroke-linecap="round" />
<path d="M823.5,148.4 A23,32 29.7 0 1 791.8,204.0" fill="none" stroke="#444" stroke-width="0.8" stroke-linejoin="round" stroke-linecap="round" />
</g>
<clipPath id="clipcomm"><path d="M784.0,132.8 L803.1,143.7 A13,26 29.7 0 1 777.4,188.9 L758.3,178.0 A13,26 29.7 0 1 784.0,132.8 Z"/></clipPath>
<path d="M784.0,132.8 L803.1,143.7 A13,26 29.7 0 1 777.4,188.9 L758.3,178.0 A13,26 29.7 0 1 784.0,132.8 Z" fill="#fff" stroke="#000" stroke-width="2.0" stroke-linejoin="round" stroke-linecap="round" />
<g clip-path="url(#clipcomm)">
<path d="M770.1,124.9 A7,26 29.7 0 1 744.4,170.1" fill="none" stroke="#222" stroke-width="0.8" stroke-linejoin="round" stroke-linecap="round" />
<path d="M772.6,126.3 A7,26 29.7 0 1 746.9,171.5" fill="none" stroke="#222" stroke-width="0.8" stroke-linejoin="round" stroke-linecap="round" />
<path d="M775.2,127.8 A7,26 29.7 0 1 749.4,172.9" fill="none" stroke="#222" stroke-width="0.8" stroke-linejoin="round" stroke-linecap="round" />
<path d="M777.7,129.2 A7,26 29.7 0 1 751.9,174.4" fill="none" stroke="#222" stroke-width="0.8" stroke-linejoin="round" stroke-linecap="round" />
<path d="M780.2,130.7 A7,26 29.7 0 1 754.4,175.8" fill="none" stroke="#222" stroke-width="0.8" stroke-linejoin="round" stroke-linecap="round" />
<path d="M782.7,132.1 A7,26 29.7 0 1 757.0,177.3" fill="none" stroke="#222" stroke-width="0.8" stroke-linejoin="round" stroke-linecap="round" />
<path d="M785.2,133.5 A7,26 29.7 0 1 759.5,178.7" fill="none" stroke="#222" stroke-width="0.8" stroke-linejoin="round" stroke-linecap="round" />
<path d="M787.8,135.0 A7,26 29.7 0 1 762.0,180.1" fill="none" stroke="#222" stroke-width="0.8" stroke-linejoin="round" stroke-linecap="round" />
<path d="M790.3,136.4 A7,26 29.7 0 1 764.5,181.6" fill="none" stroke="#222" stroke-width="0.8" stroke-linejoin="round" stroke-linecap="round" />
<path d="M792.8,137.8 A7,26 29.7 0 1 767.0,183.0" fill="none" stroke="#222" stroke-width="0.8" stroke-linejoin="round" stroke-linecap="round" />
<path d="M795.3,139.3 A7,26 29.7 0 1 769.5,184.4" fill="none" stroke="#222" stroke-width="0.8" stroke-linejoin="round" stroke-linecap="round" />
<path d="M797.8,140.7 A7,26 29.7 0 1 772.1,185.9" fill="none" stroke="#222" stroke-width="0.8" stroke-linejoin="round" stroke-linecap="round" />
<path d="M800.3,142.1 A7,26 29.7 0 1 774.6,187.3" fill="none" stroke="#222" stroke-width="0.8" stroke-linejoin="round" stroke-linecap="round" />
<path d="M802.9,143.6 A7,26 29.7 0 1 777.1,188.8" fill="none" stroke="#222" stroke-width="0.8" stroke-linejoin="round" stroke-linecap="round" />
</g>
<path d="M797.9,140.8 A13,26 29.7 0 1 772.2,185.9" fill="none" stroke="#000" stroke-width="1.4" stroke-linejoin="round" stroke-linecap="round" />
<path d="M932.1,184.1 L939.9,188.6 A39.6,54.8 29.7 0 1 885.6,283.8 L877.8,279.3 A39.6,54.8 29.7 0 1 932.1,184.1 Z" fill="#fff" stroke="#000" stroke-width="2"/>
<path d="M934.1,189.6 A37,51 29.7 0 0 883.5,278.2" fill="none" stroke="#000" stroke-width="9" stroke-dasharray="3.2,2.4"/>
<path d="M932.1,184.1 A39.6,54.8 29.7 0 0 877.8,279.3" fill="none" stroke="#000" stroke-width="2"/>
<ellipse cx="912.7" cy="236.2" rx="37.5" ry="52" transform="rotate(29.7 912.7 236.2)" fill="#fff" stroke="#000" stroke-width="1.8"/>
<ellipse cx="914.5" cy="237.2" rx="31.7" ry="44" transform="rotate(29.7 914.5 237.2)" fill="none" stroke="#333" stroke-width="1.0"/>
<ellipse cx="915.2" cy="237.6" rx="25.9" ry="36" transform="rotate(29.7 915.2 237.6)" fill="none" stroke="#333" stroke-width="0.9"/>
<ellipse cx="915.8" cy="238.0" rx="20.2" ry="28" transform="rotate(29.7 915.8 238.0)" fill="none" stroke="#333" stroke-width="0.9"/>
<ellipse cx="916.5" cy="238.4" rx="14.4" ry="20" transform="rotate(29.7 916.5 238.4)" fill="none" stroke="#333" stroke-width="1.0"/>
<ellipse cx="917.1" cy="238.7" rx="10.1" ry="14" transform="rotate(29.7 917.1 238.7)" fill="none" stroke="#333" stroke-width="0.9"/>
<ellipse cx="917.4" cy="238.9" rx="7.2" ry="10" transform="rotate(29.7 917.4 238.9)" fill="none" stroke="#333" stroke-width="0.9"/>
<path d="M924.5,242.9 Q923.8,259.1 923.6,268.8" fill="none" stroke="#444" stroke-width="0.8" stroke-linejoin="round" stroke-linecap="round" />
<path d="M915.9,251.0 Q905.5,265.2 899.3,273.9" fill="none" stroke="#444" stroke-width="0.8" stroke-linejoin="round" stroke-linecap="round" />
<path d="M906.5,251.1 Q892.4,254.9 883.9,257.4" fill="none" stroke="#444" stroke-width="0.8" stroke-linejoin="round" stroke-linecap="round" />
<path d="M901.8,243.0 Q892.3,234.2 886.4,229.1" fill="none" stroke="#444" stroke-width="0.8" stroke-linejoin="round" stroke-linecap="round" />
<path d="M904.5,231.5 Q905.1,215.3 905.3,205.6" fill="none" stroke="#444" stroke-width="0.8" stroke-linejoin="round" stroke-linecap="round" />
<path d="M913.0,223.3 Q923.4,209.2 929.6,200.5" fill="none" stroke="#444" stroke-width="0.8" stroke-linejoin="round" stroke-linecap="round" />
<path d="M922.4,223.3 Q936.5,219.4 945.0,216.9" fill="none" stroke="#444" stroke-width="0.8" stroke-linejoin="round" stroke-linecap="round" />
<path d="M927.1,231.4 Q936.6,240.1 942.5,245.2" fill="none" stroke="#444" stroke-width="0.8" stroke-linejoin="round" stroke-linecap="round" />
<path d="M919.8,233.9 L954.5,253.7 A4,5.5 29.7 0 1 949.1,263.3 L914.3,243.4 A4,5.5 29.7 0 1 919.8,233.9 Z" fill="#fff" stroke="#000" stroke-width="1.6" stroke-linejoin="round" stroke-linecap="round" />
<ellipse cx="951.8" cy="258.5" rx="4" ry="5.5" transform="rotate(29.7 951.8 258.5)" fill="#fff" stroke="#000" stroke-width="1.6"/>
<path d="M942.4,246.8 A4,5.5 29.7 0 1 936.9,256.3" fill="none" stroke="#222" stroke-width="0.8" stroke-linejoin="round" stroke-linecap="round" />
<path d="M945.0,248.2 A4,5.5 29.7 0 1 939.5,257.8" fill="none" stroke="#222" stroke-width="0.8" stroke-linejoin="round" stroke-linecap="round" />
<path d="M947.6,249.7 A4,5.5 29.7 0 1 942.1,259.3" fill="none" stroke="#222" stroke-width="0.8" stroke-linejoin="round" stroke-linecap="round" />
<path d="M950.2,251.2 A4,5.5 29.7 0 1 944.7,260.8" fill="none" stroke="#222" stroke-width="0.8" stroke-linejoin="round" stroke-linecap="round" />
<path d="M730.0,114.8 L738.8,116.7 A10.5,16.3 12 0 1 732.0,148.6 L723.2,146.7 A10.5,16.3 12 0 1 730.0,114.8 Z" fill="#fff" stroke="#000" stroke-width="1.8" stroke-linejoin="round" stroke-linecap="round" />
<ellipse cx="735.4" cy="132.6" rx="10.5" ry="16.3" transform="rotate(12.0 735.4 132.6)" fill="#fff" stroke="#000" stroke-width="1.8" />
<ellipse cx="735.4" cy="132.6" rx="6.51" ry="10.106" transform="rotate(12.0 735.4 132.6)" fill="none" stroke="#333" stroke-width="1.0" />
<ellipse cx="735.4" cy="132.6" rx="3.15" ry="4.89" transform="rotate(12.0 735.4 132.6)" fill="none" stroke="#333" stroke-width="1.0" />
<path d="M700.5,116.0 L713.0,122.0" fill="none" stroke="#222" stroke-width="1.0" stroke-linecap="butt" />
<path d="M1249.0,127.2 L1257.3,130.5 A37,52 22 0 1 1218.4,227.0 L1210.0,223.6 A37,52 22 0 1 1249.0,127.2 Z" fill="#fff" stroke="#000" stroke-width="1.8" stroke-linejoin="round" stroke-linecap="round" />
<path d="M1204.6,219.5 L1197.2,222.5 L1199.3,213.1 L1192.0,214.2 L1195.5,205.1 L1188.5,204.2 L1193.3,195.9 L1187.0,193.0 L1192.9,185.7 L1187.5,181.1 L1194.2,175.2 L1190.0,168.9 L1197.2,164.7 L1194.3,157.1 L1201.7,154.8 L1200.4,146.2 L1207.6,145.8 L1207.8,136.6 L1214.6,138.2 L1216.4,128.7 L1222.4,132.2 L1225.6,123.0 L1230.6,128.3 L1230.7,131.6 L1226.9,133.2 L1223.1,135.3 L1219.4,137.9 L1215.9,140.8 L1212.5,144.2 L1209.4,147.9 L1206.5,152.0 L1203.9,156.3 L1201.6,160.8 L1199.6,165.5 L1198.1,170.4 L1196.9,175.3 L1196.1,180.2 L1195.7,185.1 L1195.7,189.9 L1196.1,194.5 L1196.9,198.9 L1198.1,203.1 L1199.7,207.0 L1201.6,210.6 L1203.9,213.7 L1206.5,216.5 Z" fill="#888" stroke="#000" stroke-width="1.6" stroke-linejoin="miter"/>
<path d="M1253.0,128.8 L1260.0,123.8 L1259.6,133.1 L1267.0,130.0 L1265.0,139.4 L1272.4,138.2 L1268.9,147.4 L1275.9,148.2 L1271.2,156.7 L1277.6,159.4 L1271.7,166.8 L1277.2,171.4 L1270.5,177.4 L1267.8,177.3 L1268.6,172.4 L1268.9,167.5 L1268.9,162.7 L1268.5,158.1 L1267.6,153.6 L1266.3,149.4 L1264.7,145.6 L1262.7,142.0 L1260.3,138.9 L1257.7,136.2 L1254.7,133.9 L1251.5,132.1 Z" fill="#888" stroke="#000" stroke-width="1.6" stroke-linejoin="miter"/>
<ellipse cx="1238.8" cy="179.1" rx="34" ry="48.5" transform="rotate(22.0 1238.8 179.1)" fill="#fff" stroke="#000" stroke-width="2.0" />
<ellipse cx="1239.7" cy="179.5" rx="31" ry="44" transform="rotate(22.0 1239.7 179.5)" fill="none" stroke="#000" stroke-width="1.2" />
<ellipse cx="1240.6" cy="179.9" rx="26" ry="37" transform="rotate(22.0 1240.6 179.9)" fill="none" stroke="#000" stroke-width="1.4" />
<ellipse cx="1241.6" cy="180.2" rx="23.5" ry="33.5" transform="rotate(22.0 1241.6 180.2)" fill="none" stroke="#555" stroke-width="0.8" />
<path d="M1232,140 L1245,130 L1260,134 L1263,146 L1251,153 L1244,157 L1236,151 Z" fill="#fff" stroke="#000" stroke-width="1.1" stroke-linejoin="round" stroke-linecap="round" />
<path d="M1245,130 L1251,142 L1263,146 M1251,142 L1244,157" fill="none" stroke="#000" stroke-width="0.9" stroke-linejoin="round" stroke-linecap="round" />
<path d="M1200.2,159.4 L1188.0,152.5" fill="none" stroke="#222" stroke-width="1.0" stroke-linecap="butt" />
<path d="M1353.4,154.2 L1364.8,152.3 C1368,153 1370,155 1370.5,157 L1373.4,164.7 C1378,168 1383,171 1387.6,174.1 C1393,179 1398,183 1402.8,187.4 C1408,192 1413,197 1417.9,202.6 C1421,208 1424,214 1427.4,219.7 C1430,225 1433,230 1436.9,234.8 C1441,241 1446,247 1452,253.8 L1467.2,272.8 C1469,276 1470.5,280 1471,284.1 L1471,295.5 C1469,302 1467,306 1463.4,310.7 C1460,315 1456,318.5 1452,322.1 C1447,325 1442,327.5 1436.9,329.6 L1412.2,337.2 L1399,341 L1383.8,339.1 L1355.3,327.7 L1326.9,314.5 L1315.5,308.8 L1294.7,310.7 C1288,308 1284,306 1281.4,303.1 C1279,298 1278,293 1277.6,287.9 L1277.6,253.8 L1278.5,219.7 C1280,210 1282,202 1285.2,195 C1289,189 1293,185 1298.4,181.7 L1317.4,172.2 L1336.4,162.8 Z" fill="#fff" stroke="#000" stroke-width="2.2" stroke-linejoin="round" stroke-linecap="round" />
<path d="M1290,190 L1340,168 L1362,160 C1367,161 1369,164 1370,168" fill="none" stroke="#000" stroke-width="1.0" stroke-linejoin="round" stroke-linecap="round" />
<path d="M1292,197 L1336,177 C1350,170 1362,167 1375,172 L1395,185 L1420,215" fill="none" stroke="#000" stroke-width="1.0" stroke-linejoin="round" stroke-linecap="round" />
<path d="M1286,214 C1289,205 1292,200 1296,197" fill="none" stroke="#000" stroke-width="0.9" stroke-linejoin="round" stroke-linecap="round" />
<path d="M1339,199 C1336,190 1340,185 1350,184 C1362,183 1375,186 1383,193 C1386,198 1385,203 1378,207 C1368,213 1355,214 1348,212 C1342,210 1340,205 1339,199 Z" fill="none" stroke="#000" stroke-width="1.1" stroke-linejoin="round" stroke-linecap="round" />
<path d="M1340,195 C1345,190 1358,190 1370,195" fill="none" stroke="#000" stroke-width="0.8" stroke-linejoin="round" stroke-linecap="round" />
<ellipse cx="1362" cy="204" rx="8" ry="5" fill="none" stroke="#000" stroke-width="1"/>
<ellipse cx="1362" cy="204" rx="4.5" ry="2.8" fill="none" stroke="#000" stroke-width="0.9"/>
<path d="M1300,218 C1298,214 1302,211 1305,212 C1312,214 1322,218 1335,226 L1340,233 L1329,234 L1310,226 Z" fill="none" stroke="#000" stroke-width="1.0" stroke-linejoin="round" stroke-linecap="round" />
<ellipse cx="1303" cy="219" rx="3.5" ry="4" fill="none" stroke="#000" stroke-width="1"/>
<path d="M1335,235 L1345,230 L1360,228 L1380,224 M1370,228 L1375,235 L1378,228 M1395,215 L1400,222 L1404,214" fill="none" stroke="#000" stroke-width="0.9" stroke-linejoin="round" stroke-linecap="round" />
<path d="M1300,225 C1310,240 1325,250 1335,256 C1345,270 1350,290 1365,310 C1380,322 1400,325 1425,322 L1460,305" fill="none" stroke="#000" stroke-width="1.0" stroke-linejoin="round" stroke-linecap="round" />
<path d="M1340,258 L1400,236 L1435,232 M1345,270 C1355,262 1370,258 1380,258 M1392,260 L1430,244" fill="none" stroke="#000" stroke-width="0.9" stroke-linejoin="round" stroke-linecap="round" />
<path d="M1363,261 C1385,260 1400,270 1405,285 C1410,300 1405,315 1390,320 C1375,322 1370,312 1375,300" fill="none" stroke="#000" stroke-width="1.0" stroke-linejoin="round" stroke-linecap="round" />
<ellipse cx="1368.6" cy="282.2" rx="11" ry="12" fill="none" stroke="#000" stroke-width="1.2"/>
<ellipse cx="1368.6" cy="282.2" rx="7" ry="8" fill="none" stroke="#000" stroke-width="1"/>
<path d="M1360,277 C1365,274 1372,275 1375,279 M1360,285 C1365,282 1372,283 1376,287" fill="none" stroke="#000" stroke-width="0.8" stroke-linejoin="round" stroke-linecap="round" />
<ellipse cx="1315.5" cy="280.3" rx="8" ry="11" fill="none" stroke="#000" stroke-width="1.1"/>
<ellipse cx="1315.5" cy="280.3" rx="4.5" ry="7" fill="none" stroke="#000" stroke-width="0.9"/>
<path d="M1303,262 C1308,263 1312,268 1314,270" fill="none" stroke="#000" stroke-width="0.8" stroke-linejoin="round" stroke-linecap="round" />
<path d="M1290,300 L1320,306 L1390,333 L1450,318 L1468,295" fill="none" stroke="#000" stroke-width="0.9" stroke-linejoin="round" stroke-linecap="round" />
<path d="M1297,304 L1300,296 L1305,303 L1308,297 L1312,305" fill="none" stroke="#000" stroke-width="0.9" stroke-linejoin="round" stroke-linecap="round" />
<path d="M1435,317 L1452,310 M1433,321 L1440,316 L1440,322 Z" fill="none" stroke="#000" stroke-width="1.0" stroke-linejoin="round" stroke-linecap="round" />
<path d="M1414.0,162.8 L1425.5,178.0 L1366.7,286.0" fill="none" stroke="#222" stroke-width="0.9" stroke-linecap="butt" />
<path d="M1427.4,198.8 L1406.5,187.4" fill="none" stroke="#222" stroke-width="0.9" stroke-linecap="butt" stroke-dasharray="3,2"/>
<path d="M1326.9,316.4 L1270.0,348.6" fill="none" stroke="#222" stroke-width="0.9" stroke-linecap="butt" />
<path d="M1399.0,327.7 L1399.0,341.0" fill="none" stroke="#555" stroke-width="0.8" stroke-linecap="butt" />
<path d="M1229.3,175.9 L1277.4,203.7" fill="none" stroke="#222" stroke-width="0.9" stroke-linecap="butt" />
<path d="M1330,86 C1330,74 1356,72 1357,84 C1357,92 1350,96 1343,96 C1335,96 1330,92 1330,86 Z" fill="#fff" stroke="#000" stroke-width="1.7"/>
<ellipse cx="1343" cy="81" rx="11" ry="6" fill="none" stroke="#333" stroke-width="0.8"/>
<circle cx="1341" cy="82" r="1.2" fill="#333"/>
<ellipse cx="1358.0" cy="102.0" rx="5.5" ry="7.5" transform="rotate(-40 1358.0 102.0)" fill="none" stroke="#000" stroke-width="1.5"/>
<ellipse cx="1362.5" cy="106.5" rx="5.5" ry="7.5" transform="rotate(-40 1362.5 106.5)" fill="none" stroke="#000" stroke-width="1.5"/>
<ellipse cx="1367.0" cy="111.0" rx="5.5" ry="7.5" transform="rotate(-40 1367.0 111.0)" fill="none" stroke="#000" stroke-width="1.5"/>
<ellipse cx="1380.5" cy="124.6" rx="3.2" ry="4.6" transform="rotate(35 1380.5 124.6)" fill="none" stroke="#000" stroke-width="1.5"/>
<path d="M1391,140 L1396,135 L1410,150 L1412,156 L1406,158 L1394,146 Z" fill="#fff" stroke="#000" stroke-width="1.5" stroke-linejoin="round" stroke-linecap="round" />
<path d="M1395,143 L1399,139 M1398,146 L1402,142 M1401,149 L1405,145" fill="none" stroke="#000" stroke-width="0.9" stroke-linejoin="round" stroke-linecap="round" />
<path d="M1477.9,223.1 L1433.7,200.4 L1428.0,201.0 L1430.8,206.0 L1474.9,228.7 Z" fill="#fff" stroke="#000" stroke-width="1.4" stroke-linejoin="round" stroke-linecap="round" />
<path d="M1476.3,221.7 L1471.6,227.6" fill="none" stroke="#222" stroke-width="1.0" stroke-linejoin="round" stroke-linecap="round" />
<path d="M1473.1,220.1 L1468.4,225.9" fill="none" stroke="#222" stroke-width="1.0" stroke-linejoin="round" stroke-linecap="round" />
<path d="M1469.9,218.4 L1465.2,224.3" fill="none" stroke="#222" stroke-width="1.0" stroke-linejoin="round" stroke-linecap="round" />
<path d="M1466.7,216.8 L1462.0,222.6" fill="none" stroke="#222" stroke-width="1.0" stroke-linejoin="round" stroke-linecap="round" />
<path d="M1463.5,215.1 L1458.8,221.0" fill="none" stroke="#222" stroke-width="1.0" stroke-linejoin="round" stroke-linecap="round" />
<path d="M1460.3,213.5 L1455.6,219.3" fill="none" stroke="#222" stroke-width="1.0" stroke-linejoin="round" stroke-linecap="round" />
<path d="M1457.1,211.8 L1452.4,217.7" fill="none" stroke="#222" stroke-width="1.0" stroke-linejoin="round" stroke-linecap="round" />
<path d="M1453.9,210.2 L1449.2,216.0" fill="none" stroke="#222" stroke-width="1.0" stroke-linejoin="round" stroke-linecap="round" />
<path d="M1450.7,208.5 L1446.0,214.4" fill="none" stroke="#222" stroke-width="1.0" stroke-linejoin="round" stroke-linecap="round" />
<path d="M1447.5,206.9 L1442.8,212.7" fill="none" stroke="#222" stroke-width="1.0" stroke-linejoin="round" stroke-linecap="round" />
<path d="M1444.3,205.2 L1439.6,211.1" fill="none" stroke="#222" stroke-width="1.0" stroke-linejoin="round" stroke-linecap="round" />
<path d="M1441.1,203.6 L1436.4,209.4" fill="none" stroke="#222" stroke-width="1.0" stroke-linejoin="round" stroke-linecap="round" />
<path d="M1437.9,201.9 L1433.2,207.8" fill="none" stroke="#222" stroke-width="1.0" stroke-linejoin="round" stroke-linecap="round" />
<path d="M1434.7,200.3 L1430.0,206.1" fill="none" stroke="#222" stroke-width="1.0" stroke-linejoin="round" stroke-linecap="round" />
<ellipse cx="1479.5" cy="227.5" rx="3.8500000000000005" ry="7" transform="rotate(-152.77132082290876 1479.5 227.5)" fill="#fff" stroke="#000" stroke-width="1.6" />
<ellipse cx="1480.3891874633111" cy="227.95754306364557" rx="2.4499999999999997" ry="4.8999999999999995" transform="rotate(-152.77132082290876 1480.3891874633111 227.95754306364557)" fill="none" stroke="#444" stroke-width="0.8" />
<path d="M1478.8,231.1 L1482.0,224.8" fill="none" stroke="#444" stroke-width="0.9" stroke-linejoin="round" stroke-linecap="round" />
<path d="M1389,444.5 L1389,451.5 C1396,454.5 1406,454.5 1413,451.5 L1413,444.5" fill="#fff" stroke="#000" stroke-width="1.4" stroke-linejoin="round" stroke-linecap="round" />
<ellipse cx="1401" cy="414.5" rx="52.4" ry="33.5" fill="#fff" stroke="#000" stroke-width="1.9" />
<ellipse cx="1401" cy="415.5" rx="47" ry="28" fill="none" stroke="#000" stroke-width="7" stroke-dasharray="0.9,2.5"/>
<ellipse cx="1401" cy="414.5" rx="41.5" ry="21.5" fill="none" stroke="#000" stroke-width="6" stroke-dasharray="0.9,2.4"/>
<ellipse cx="1401" cy="409.8" rx="37.4" ry="16.3" fill="#fff" stroke="#000" stroke-width="1.5" />
<ellipse cx="1401" cy="409.5" rx="27.6" ry="12.5" fill="none" stroke="#000" stroke-width="1.5" />
<ellipse cx="1400.5" cy="407.4" rx="20.7" ry="10.6" fill="none" stroke="#000" stroke-width="1.1" />
<ellipse cx="1401.3" cy="407.4" rx="14.3" ry="6.5" fill="none" stroke="#000" stroke-width="1.0" />
<ellipse cx="1401.3" cy="408" rx="8.6" ry="3.7" fill="none" stroke="#000" stroke-width="1.0" />
<path d="M1455.0,420.3 L1480.0,420.3" fill="none" stroke="#000" stroke-width="0" stroke-linejoin="miter" stroke-linecap="square"/>
<path d="M1390.8,354 L1390.8,369 A11,4 0 0 0 1412.8,369 L1412.8,354 Z" fill="#fff" stroke="#000" stroke-width="1.6" stroke-linejoin="round" stroke-linecap="round" />
<ellipse cx="1401.8" cy="354" rx="11" ry="4" fill="#fff" stroke="#000" stroke-width="1.6"/>
<ellipse cx="1401.8" cy="354" rx="7" ry="2.5" fill="none" stroke="#000" stroke-width="0.9" />
<path d="M1412.8,365.9 L1476.3,365.9" fill="none" stroke="#446" stroke-width="1.1" stroke-linecap="butt" />
<path d="M1398.2,327.6 L1398.2,338.2" fill="none" stroke="#666" stroke-width="0.8" stroke-linecap="butt" />
<path d="M1462,318 L1466,314 L1470,318 L1470,342 L1462,342 Z" fill="#fff" stroke="#000" stroke-width="1.4" stroke-linejoin="round" stroke-linecap="round" />
<path d="M1462,320.0 L1470,321.5" fill="none" stroke="#000" stroke-width="0.9" stroke-linejoin="round" stroke-linecap="round" />
<path d="M1462,323.6 L1470,325.1" fill="none" stroke="#000" stroke-width="0.9" stroke-linejoin="round" stroke-linecap="round" />
<path d="M1462,327.2 L1470,328.7" fill="none" stroke="#000" stroke-width="0.9" stroke-linejoin="round" stroke-linecap="round" />
<path d="M1462,330.8 L1470,332.3" fill="none" stroke="#000" stroke-width="0.9" stroke-linejoin="round" stroke-linecap="round" />
<path d="M1462,334.4 L1470,335.9" fill="none" stroke="#000" stroke-width="0.9" stroke-linejoin="round" stroke-linecap="round" />
<path d="M1462,338.0 L1470,339.5" fill="none" stroke="#000" stroke-width="0.9" stroke-linejoin="round" stroke-linecap="round" />
<path d="M1456,344 L1456,351 C1459,355 1471,355 1474,351 L1474,344 C1471,341 1459,341 1456,344 Z" fill="#fff" stroke="#000" stroke-width="1.4" stroke-linejoin="round" stroke-linecap="round" />
<path d="M1474.0,329.8 L1480.0,329.8" fill="none" stroke="#222" stroke-width="1.2" stroke-linecap="butt" />
<ellipse cx="1333.8" cy="389" rx="10.5" ry="13" transform="rotate(15 1333.8 389)" fill="#fff" stroke="#000" stroke-width="1.7"/>
<path d="M1325,382 L1330,377 M1323,395 L1326,400 M1338,401 L1343,396" fill="none" stroke="#000" stroke-width="1.0" stroke-linejoin="round" stroke-linecap="round" />
<ellipse cx="1337" cy="388.5" rx="6" ry="8.5" transform="rotate(15 1337 388.5)" fill="#fff" stroke="#000" stroke-width="1.3"/>
<ellipse cx="1337.5" cy="388.5" rx="3" ry="4.5" transform="rotate(15 1337.5 388.5)" fill="none" stroke="#000" stroke-width="0.9"/>
<path d="M1282,356 C1276,362 1275,374 1281,381 L1291,385 L1296,353 Z" fill="#fff" stroke="#000" stroke-width="1.6"/>
<ellipse cx="1287" cy="369" rx="5" ry="13" transform="rotate(15 1287 369)" fill="#fff" stroke="#000" stroke-width="1.4"/>
<path d="M1293,352 L1298,347 L1301,351 L1305,346 L1308,352 L1312,350 L1313,356 L1317,357 L1315,363 L1319,366 L1315,371 L1318,376 L1312,379 L1313,384 L1307,384 L1304,389 L1299,386 L1294,389 L1292,384 Z" fill="#fff" stroke="#000" stroke-width="1.5"/>
<path d="M1295,356 L1312,358" fill="none" stroke="#000" stroke-width="1.0" stroke-linejoin="round" stroke-linecap="round" />
<path d="M1295,361 L1312,363" fill="none" stroke="#000" stroke-width="1.0" stroke-linejoin="round" stroke-linecap="round" />
<path d="M1295,366 L1312,368" fill="none" stroke="#000" stroke-width="1.0" stroke-linejoin="round" stroke-linecap="round" />
<path d="M1295,371 L1312,373" fill="none" stroke="#000" stroke-width="1.0" stroke-linejoin="round" stroke-linecap="round" />
<path d="M1295,376 L1312,378" fill="none" stroke="#000" stroke-width="1.0" stroke-linejoin="round" stroke-linecap="round" />
<path d="M1295,381 L1312,383" fill="none" stroke="#000" stroke-width="1.0" stroke-linejoin="round" stroke-linecap="round" />
<path d="M1297,355 L1300,384 M1304,353 L1307,386" fill="none" stroke="#444" stroke-width="0.8" stroke-linejoin="round" stroke-linecap="round" />
<path d="M1267.0,350.0 L1327.3,315.9" fill="none" stroke="#222" stroke-width="0.9" stroke-linecap="butt" />
<path d="M1267.0,350.0 L1278.0,356.4" fill="none" stroke="#222" stroke-width="0.9" stroke-linecap="butt" />
<path d="M1401.8,478.0 L1401.8,965.0" fill="none" stroke="#777" stroke-width="0.9" stroke-linecap="butt" />
<path d="M1375.3,494 L1375.3,513 A26.5,9.5 0 0 0 1428.3,513 L1428.3,494 Z" fill="#fff" stroke="#000" stroke-width="1.8" stroke-linejoin="round" stroke-linecap="round" />
<ellipse cx="1401.8" cy="494" rx="26.5" ry="9.5" fill="#fff" stroke="#000" stroke-width="1.8"/>
<ellipse cx="1401.8" cy="494" rx="19" ry="6.5" fill="none" stroke="#000" stroke-width="1.1" />
<circle cx="1424.3" cy="494.0" r="0.9" fill="#000"/>
<circle cx="1421.3" cy="498.0" r="0.9" fill="#000"/>
<circle cx="1413.0" cy="500.9" r="0.9" fill="#000"/>
<circle cx="1401.8" cy="502.0" r="0.9" fill="#000"/>
<circle cx="1390.5" cy="500.9" r="0.9" fill="#000"/>
<circle cx="1382.3" cy="498.0" r="0.9" fill="#000"/>
<circle cx="1379.3" cy="494.0" r="0.9" fill="#000"/>
<circle cx="1382.3" cy="490.0" r="0.9" fill="#000"/>
<circle cx="1390.5" cy="487.1" r="0.9" fill="#000"/>
<circle cx="1401.8" cy="486.0" r="0.9" fill="#000"/>
<circle cx="1413.0" cy="487.1" r="0.9" fill="#000"/>
<circle cx="1421.3" cy="490.0" r="0.9" fill="#000"/>
<circle cx="1379.8" cy="508.9" r="1" fill="#000"/>
<circle cx="1385.3" cy="509.5" r="1" fill="#000"/>
<circle cx="1390.8" cy="510.2" r="1" fill="#000"/>
<circle cx="1396.3" cy="510.8" r="1" fill="#000"/>
<circle cx="1401.8" cy="511.5" r="1" fill="#000"/>
<circle cx="1407.3" cy="510.8" r="1" fill="#000"/>
<circle cx="1412.8" cy="510.2" r="1" fill="#000"/>
<circle cx="1418.3" cy="509.5" r="1" fill="#000"/>
<circle cx="1423.8" cy="508.9" r="1" fill="#000"/>
<path d="M1375.3,503 A26.5,9.5 0 0 0 1428.3,503" fill="none" stroke="#000" stroke-width="0.9" stroke-linejoin="round" stroke-linecap="round" />
<path d="M1429.7,503.4 L1466.6,503.4" fill="none" stroke="#444" stroke-width="1.1" stroke-linecap="butt" />
<path d="M1368.2,549.5 L1368.2,559 A33.6,15 0 0 0 1435.3999999999999,559 L1435.3999999999999,549.5 Z" fill="#fff" stroke="#000" stroke-width="2.0" stroke-linejoin="round" stroke-linecap="round" />
<ellipse cx="1401.8" cy="549.5" rx="33.6" ry="15" fill="#fff" stroke="#000" stroke-width="2.0"/>
<ellipse cx="1401.8" cy="551" rx="27" ry="11.5" fill="none" stroke="#000" stroke-width="1.2" />
<ellipse cx="1401.8" cy="553" rx="22" ry="9" fill="none" stroke="#000" stroke-width="1.0" />
<ellipse cx="1401.8" cy="555" rx="17" ry="6.5" fill="none" stroke="#000" stroke-width="1.0" />
<path d="M1437.3,552.6 L1466.6,552.6" fill="none" stroke="#444" stroke-width="1.1" stroke-linecap="butt" />
<path d="M1431.8,607 A32,18 0 1 1 1430.8,593 L1425.8,596 A22,11.5 0 1 0 1423.8,604 Z" fill="#fff" stroke="#000" stroke-width="1.3" fill-rule="evenodd"/>
<path d="M1387.8,615 L1397.8,609 L1403.8,611 L1393.8,617" fill="#fff" stroke="#000" stroke-width="1.2" stroke-linejoin="round" stroke-linecap="round" />
<circle cx="1430.8" cy="598" r="1.3" fill="none" stroke="#000" stroke-width="0.8"/>
<circle cx="1397.8" cy="612" r="1.3" fill="none" stroke="#000" stroke-width="0.8"/>
<path d="M1437.3,598.1 L1453.6,598.1" fill="none" stroke="#444" stroke-width="1.1" stroke-linecap="butt" />
<path d="M1340,690 L1344,683 C1350,668 1375,657 1402,655 C1430,655 1452,664 1458,676 L1462,682 L1459,690 C1455,698 1435,708 1402,709 L1395,707 L1385,709 C1365,706 1348,700 1341,693 Z" fill="#fff" stroke="#000" stroke-width="1.2"/>
<path d="M1344,688 C1350,698 1372,704 1400,704 C1425,704 1448,698 1456,688" fill="none" stroke="#000" stroke-width="0.9" stroke-linejoin="round" stroke-linecap="round" />
<path d="M1312.7,672.1 L1339.0,672.1" fill="none" stroke="#444" stroke-width="1.1" stroke-linecap="butt" />
<path d="M1367.8,637 L1367.8,654.5 A34,14 0 0 0 1435.8,654.5 L1435.8,637 Z" fill="#fff" stroke="#000" stroke-width="1.8" stroke-linejoin="round" stroke-linecap="round" />
<ellipse cx="1401.8" cy="637" rx="34" ry="14" fill="#fff" stroke="#000" stroke-width="1.8"/>
<ellipse cx="1401.8" cy="637" rx="27" ry="11" fill="none" stroke="#000" stroke-width="1.0" />
<ellipse cx="1401.8" cy="637" rx="17" ry="7" fill="none" stroke="#000" stroke-width="1.0" />
<ellipse cx="1401.8" cy="638" rx="10" ry="4" fill="none" stroke="#000" stroke-width="1.0" />
<path d="M1437.3,636.0 L1451.4,636.0" fill="none" stroke="#444" stroke-width="1.1" stroke-linecap="butt" />
<ellipse cx="1401.8" cy="701.7" rx="54.5" ry="30.5" fill="none" stroke="#000" stroke-width="2.5" />
<path d="M1458.0,710.4 L1470.0,710.4" fill="none" stroke="#444" stroke-width="1.1" stroke-linecap="butt" />
<path d="M1352.5,795 L1355.3,816.6 C1370,828 1390,831 1401.4,830.2 C1420,830 1440,825 1450.2,813.9 L1452.9,798" fill="#fff" stroke="#000" stroke-width="1.8" stroke-linejoin="round" stroke-linecap="round" />
<path d="M1336.3,755.6 L1343,752.9 L1461,754.2 L1470.5,761 L1467.8,774.6 L1455.6,789.5 L1436.6,803 L1415,811.2 L1385,808.5 L1352.5,795 L1339,786.8 L1335,778.6 Z" fill="#fff" stroke="#000" stroke-width="1.8" stroke-linejoin="round" stroke-linecap="round" />
<path d="M1355,807 C1380,818 1425,820 1451,806" fill="none" stroke="#000" stroke-width="1.0" stroke-linejoin="round" stroke-linecap="round" />
<path d="M1337,770 L1350,778 C1370,790 1400,795 1430,790 L1468,770" fill="none" stroke="#000" stroke-width="0.9" stroke-linejoin="round" stroke-linecap="round" />
<ellipse cx="1401.8" cy="745" rx="55.5" ry="20" fill="#fff" stroke="#000" stroke-width="1.8" />
<path d="M1346.3,745 L1346.3,770 M1457.3,745 L1457.3,768" fill="none" stroke="#000" stroke-width="1.2" stroke-linejoin="round" stroke-linecap="round" />
<ellipse cx="1401.8" cy="748" rx="48" ry="16" fill="none" stroke="#000" stroke-width="1.1" />
<ellipse cx="1401.8" cy="751" rx="41" ry="13" fill="none" stroke="#000" stroke-width="1.1" />
<ellipse cx="1401.8" cy="753" rx="33" ry="10.5" fill="none" stroke="#000" stroke-width="1.1" />
<ellipse cx="1401.8" cy="755" rx="26" ry="8" fill="none" stroke="#000" stroke-width="1.0" />
<path d="M1346.8,760 C1361.8,782 1441.8,782 1456.8,760" fill="none" stroke="#000" stroke-width="1.0" stroke-linejoin="round" stroke-linecap="round" />
<circle cx="1343" cy="763" r="3" fill="none" stroke="#000" stroke-width="0.9"/>
<circle cx="1461" cy="762" r="3" fill="none" stroke="#000" stroke-width="0.9"/>
<circle cx="1398" cy="800" r="2.5" fill="none" stroke="#000" stroke-width="0.9"/>
<path d="M1380,806 L1385,800 L1415,800 L1418,806" fill="none" stroke="#000" stroke-width="0.9" stroke-linejoin="round" stroke-linecap="round" />
<path d="M1458.0,752.0 L1512.0,752.0" fill="none" stroke="#000" stroke-width="1.6" stroke-linejoin="miter" stroke-linecap="square"/>
<path d="M1337.6,822 L1347.1,822 L1347.1,846.4 L1337.6,846.4 Z" fill="#fff" stroke="#000" stroke-width="1.4" stroke-linejoin="round" stroke-linecap="round" />
<path d="M1337.6,825.0 L1347.1,826.5" fill="none" stroke="#000" stroke-width="0.9" stroke-linejoin="round" stroke-linecap="round" />
<path d="M1337.6,829.2 L1347.1,830.7" fill="none" stroke="#000" stroke-width="0.9" stroke-linejoin="round" stroke-linecap="round" />
<path d="M1337.6,833.4 L1347.1,834.9" fill="none" stroke="#000" stroke-width="0.9" stroke-linejoin="round" stroke-linecap="round" />
<path d="M1337.6,837.6 L1347.1,839.1" fill="none" stroke="#000" stroke-width="0.9" stroke-linejoin="round" stroke-linecap="round" />
<path d="M1337.6,841.8 L1347.1,843.3" fill="none" stroke="#000" stroke-width="0.9" stroke-linejoin="round" stroke-linecap="round" />
<path d="M1333.6,848 L1333.6,855 C1336,858.5 1347,858.5 1349.8,855 L1349.8,848 C1347,845 1336,845 1333.6,848 Z" fill="#fff" stroke="#000" stroke-width="1.4" stroke-linejoin="round" stroke-linecap="round" />
<path d="M1315.0,837.8 L1331.8,837.8" fill="none" stroke="#444" stroke-width="1.1" stroke-linecap="butt" />
<path d="M1340.0,790.0 L1340.0,820.0" fill="none" stroke="#666" stroke-width="0.8" stroke-linecap="butt" />
<path d="M1393.2,845 L1393.2,865 L1409.5,865 L1409.5,845 Z" fill="#fff" stroke="#000" stroke-width="1.5" stroke-linejoin="round" stroke-linecap="round" />
<ellipse cx="1401.4" cy="845" rx="8.2" ry="2.5" fill="#fff" stroke="#000" stroke-width="1.2" />
<path d="M1391.9,869.5 L1391.9,911.5 L1413.6,911.5 L1413.6,869.5 Z M1391.9,869.5 C1395,866 1410,866 1413.6,869.5" fill="#fff" stroke="#000" stroke-width="1.5" stroke-linejoin="round" stroke-linecap="round" />
<path d="M1386.4,913 L1386.4,929 L1416.3,929 L1416.3,913 Z" fill="#fff" stroke="#000" stroke-width="1.5" stroke-linejoin="round" stroke-linecap="round" />
<path d="M1395,913 L1395,929 M1407,913 L1407,929" fill="none" stroke="#000" stroke-width="0.8" stroke-linejoin="round" stroke-linecap="round" />
<path d="M1391.9,930.5 L1391.9,949 L1410.8,949 L1410.8,930.5" fill="#fff" stroke="#000" stroke-width="1.5" stroke-linejoin="round" stroke-linecap="round" />
<path d="M1391.9,932.0 L1410.8,933.5" fill="none" stroke="#000" stroke-width="1.0" stroke-linejoin="round" stroke-linecap="round" />
<path d="M1391.9,935.6 L1410.8,937.1" fill="none" stroke="#000" stroke-width="1.0" stroke-linejoin="round" stroke-linecap="round" />
<path d="M1391.9,939.2 L1410.8,940.7" fill="none" stroke="#000" stroke-width="1.0" stroke-linejoin="round" stroke-linecap="round" />
<path d="M1391.9,942.8 L1410.8,944.3" fill="none" stroke="#000" stroke-width="1.0" stroke-linejoin="round" stroke-linecap="round" />
<path d="M1391.9,946.4 L1410.8,947.9" fill="none" stroke="#000" stroke-width="1.0" stroke-linejoin="round" stroke-linecap="round" />
<path d="M1415.6,879.5 L1447.7,879.5" fill="none" stroke="#333" stroke-width="1.2" stroke-linecap="butt" />
<path d="M1411.0,922.6 L1434.0,922.6" fill="none" stroke="#333" stroke-width="1.2" stroke-linecap="butt" />
<ellipse cx="1402.7" cy="979.3" rx="28.5" ry="15" fill="#fff" stroke="#000" stroke-width="2.0" />
<ellipse cx="1402.7" cy="980" rx="22" ry="11" fill="none" stroke="#000" stroke-width="1.2" />
<ellipse cx="1402.7" cy="981" rx="17" ry="7" fill="none" stroke="#000" stroke-width="3.5" stroke-dasharray="1.5,1.5"/>
<path d="M1431.0,978.6 L1466.0,978.6" fill="none" stroke="#444" stroke-width="1.1" stroke-linecap="butt" />
<path d="M1057.8,764 C1050,752 1046,745 1049.5,739.4 C1052,730 1056,725 1062,722.7 C1075,717 1085,715 1093.1,714.4 C1105,713 1118,712 1126.4,710.3 C1137,707 1143,704 1145,699.9 C1148,694 1147,690 1145,687 C1141,683 1136,681 1130.5,679.1" fill="none" stroke="#000" stroke-width="3.8" stroke-linecap="round"/>
<path d="M1057.8,764 C1050,752 1046,745 1049.5,739.4 C1052,730 1056,725 1062,722.7 C1075,717 1085,715 1093.1,714.4 C1105,713 1118,712 1126.4,710.3 C1137,707 1143,704 1145,699.9 C1148,694 1147,690 1145,687 C1141,683 1136,681 1130.5,679.1" fill="none" stroke="#fff" stroke-width="1.5" stroke-linecap="round"/>
<g transform="translate(1122,672) rotate(25)"><path d="M-8,-4 L4,-4 L4,-6 L8,-6 L8,6 L4,6 L4,4 L-8,4 Z" fill="#fff" stroke="#000" stroke-width="1.4"/><path d="M-8,0 L4,0 M-3,-4 L-3,4" stroke="#000" stroke-width="0.9" fill="none"/></g>
<path d="M1099.4,667.7 L1111.8,671.8" fill="none" stroke="#222" stroke-width="1.0" stroke-linecap="butt" />
<path d="M1024.2,840.2 L1024.2,801.7 C1026,795 1028,790 1030.4,786.2 C1033,780 1037,776 1040.8,772.7 C1045,769 1049,767 1053.2,765.4 C1058,763.5 1062,762.5 1066.7,762.3 C1071,762.5 1074,763 1077.1,764.3 C1081,766 1084,768 1086.5,770.6 L1102,763.3 L1134.3,778.9 L1151.9,789.3 C1155,792 1157,796 1158.2,799.7 L1159.2,812.1 C1162,813 1164,815 1164.4,817.3 L1164.4,824.6 C1162,828 1160,829.5 1157.1,829.8 L1150.9,828.8 L1149.8,831.9 L1139.5,824.1 L1134.3,824.6 C1128,828 1122,832 1118.7,836 C1113,840 1109,844 1106.2,848.5 C1104,852 1102,856 1101,858.9 C1098,861 1095,862 1092.7,862 L1082.3,861 L1079.2,868.2 Z" fill="#fff" stroke="#000" stroke-width="2.0" stroke-linejoin="round" stroke-linecap="round" />
<clipPath id="cu"><path d="M1024.2,840.2 L1024.2,801.7 C1026,795 1028,790 1030.4,786.2 C1033,780 1037,776 1040.8,772.7 C1045,769 1049,767 1053.2,765.4 C1058,763.5 1062,762.5 1066.7,762.3 C1071,762.5 1074,763 1077.1,764.3 C1081,766 1084,768 1086.5,770.6 L1102,763.3 L1134.3,778.9 L1151.9,789.3 C1155,792 1157,796 1158.2,799.7 L1159.2,812.1 C1162,813 1164,815 1164.4,817.3 L1164.4,824.6 C1162,828 1160,829.5 1157.1,829.8 L1150.9,828.8 L1149.8,831.9 L1139.5,824.1 L1134.3,824.6 C1128,828 1122,832 1118.7,836 C1113,840 1109,844 1106.2,848.5 C1104,852 1102,856 1101,858.9 C1098,861 1095,862 1092.7,862 L1082.3,861 L1079.2,868.2 Z"/></clipPath><g clip-path="url(#cu)">
<path d="M1026.2,844.2 L1034.6,808.8 Q1035.6,802.8 1041.6,799.3 L1102.0,764.3" fill="none" stroke="#111" stroke-width="0.9" stroke-linejoin="round" stroke-linecap="round" />
<path d="M1029.3,846.0 L1037.5,809.8 Q1038.5,803.8 1044.5,800.3 L1105.4,766.2" fill="none" stroke="#111" stroke-width="0.9" stroke-linejoin="round" stroke-linecap="round" />
<path d="M1032.4,847.7 L1040.4,810.9 Q1041.4,804.9 1047.4,801.4 L1108.8,768.0" fill="none" stroke="#111" stroke-width="0.9" stroke-linejoin="round" stroke-linecap="round" />
<path d="M1035.5,849.5 L1043.3,811.9 Q1044.3,805.9 1050.3,802.4 L1112.2,769.9" fill="none" stroke="#111" stroke-width="0.9" stroke-linejoin="round" stroke-linecap="round" />
<path d="M1038.6,851.3 L1046.2,813.0 Q1047.2,807.0 1053.2,803.5 L1115.6,771.8" fill="none" stroke="#111" stroke-width="0.9" stroke-linejoin="round" stroke-linecap="round" />
<path d="M1041.7,853.1 L1049.1,814.0 Q1050.1,808.0 1056.1,804.5 L1119.0,773.6" fill="none" stroke="#111" stroke-width="0.9" stroke-linejoin="round" stroke-linecap="round" />
<path d="M1044.8,854.8 L1052.0,815.0 Q1053.0,809.0 1059.0,805.5 L1122.4,775.5" fill="none" stroke="#111" stroke-width="0.9" stroke-linejoin="round" stroke-linecap="round" />
<path d="M1047.9,856.6 L1054.9,816.1 Q1055.9,810.1 1061.9,806.6 L1125.8,777.4" fill="none" stroke="#111" stroke-width="0.9" stroke-linejoin="round" stroke-linecap="round" />
<path d="M1051.0,858.4 L1057.8,817.1 Q1058.8,811.1 1064.8,807.6 L1129.2,779.3" fill="none" stroke="#111" stroke-width="0.9" stroke-linejoin="round" stroke-linecap="round" />
<path d="M1054.1,860.1 L1060.7,818.2 Q1061.7,812.2 1067.7,808.7 L1132.6,781.1" fill="none" stroke="#111" stroke-width="0.9" stroke-linejoin="round" stroke-linecap="round" />
<path d="M1057.2,861.9 L1063.6,819.2 Q1064.6,813.2 1070.6,809.7 L1136.0,783.0" fill="none" stroke="#111" stroke-width="0.9" stroke-linejoin="round" stroke-linecap="round" />
<path d="M1060.3,863.7 L1066.5,820.2 Q1067.5,814.2 1073.5,810.7 L1139.4,784.9" fill="none" stroke="#111" stroke-width="0.9" stroke-linejoin="round" stroke-linecap="round" />
<path d="M1063.4,865.4 L1069.4,821.3 Q1070.4,815.3 1076.4,811.8 L1142.8,786.7" fill="none" stroke="#111" stroke-width="0.9" stroke-linejoin="round" stroke-linecap="round" />
<path d="M1066.5,867.2 L1072.3,822.3 Q1073.3,816.3 1079.3,812.8 L1146.2,788.6" fill="none" stroke="#111" stroke-width="0.9" stroke-linejoin="round" stroke-linecap="round" />
<path d="M1069.6,869.0 L1075.2,823.4 Q1076.2,817.4 1082.2,813.9 L1149.6,790.5" fill="none" stroke="#111" stroke-width="0.9" stroke-linejoin="round" stroke-linecap="round" />
</g>
<path d="M1024.2,828 L1079.2,855 M1024.2,833 L1079.2,861" fill="none" stroke="#000" stroke-width="0.9" stroke-linejoin="round" stroke-linecap="round" />
<path d="M1082.3,861 C1082,852 1083,846 1084.4,843.3 C1087,836 1090,831 1092.7,827.7 C1099,820 1106,814 1113.5,810 C1120,806 1127,803 1134.3,802.8 C1140,803 1146,805 1149.8,807 C1154,809 1157,811 1159.2,812.1" fill="none" stroke="#000" stroke-width="1.1" stroke-linejoin="round" stroke-linecap="round" />
<path d="M1086,843 C1088,838 1094,836 1095,841 C1094,845 1089,847 1086,843 Z" fill="none" stroke="#000" stroke-width="0.9" stroke-linejoin="round" stroke-linecap="round" />
<path d="M1139.5,824.1 L1141,820 L1150,824 L1150.9,828.8" fill="none" stroke="#000" stroke-width="0.9" stroke-linejoin="round" stroke-linecap="round" />
<path d="M1086.5,770.6 C1088,778 1087,785 1083,790" fill="none" stroke="#000" stroke-width="0.9" stroke-linejoin="round" stroke-linecap="round" />
<path d="M1135.7,754.5 L1135.7,776.8" fill="none" stroke="#333" stroke-width="1.3" stroke-linecap="butt" />
<path d="M1153.4,830.8 L1153.4,942.0" fill="none" stroke="#111" stroke-width="1.3" stroke-linecap="butt" />
<path d="M1000,784 C1010,787 1018,790 1026,794" fill="none" stroke="#000" stroke-width="3.0" stroke-linecap="round"/>
<path d="M1000,784 C1010,787 1018,790 1026,794" fill="none" stroke="#fff" stroke-width="1.0" stroke-linecap="round"/>
<g transform="translate(993,781) rotate(10)"><path d="M-8,-4 L4,-4 L4,-6 L8,-6 L8,6 L4,6 L4,4 L-8,4 Z" fill="#fff" stroke="#000" stroke-width="1.4"/><path d="M-8,0 L4,0 M-3,-4 L-3,4" stroke="#000" stroke-width="0.9" fill="none"/></g>
<path d="M971.0,781.0 L984.0,781.0" fill="none" stroke="#222" stroke-width="1.0" stroke-linecap="butt" />
<path d="M1070.7,942.1 C1073,935 1080,930 1091.3,929.1 C1096,929 1100,930 1103.2,931.3 L1105.4,922.6 L1159.6,949.7 L1160.7,960.5 C1161,968 1161,975 1160.7,980 C1160,990 1159,996 1156.3,1001.7 C1153,1009 1150,1014 1145.5,1018 C1140,1022 1135,1024.5 1129.2,1025.6 C1123,1027 1118,1027.7 1113,1027.7 C1107,1027 1101,1025 1096.7,1022.3 L1085.9,1012.6 L1079.4,1026.7 L1028.4,997.4 C1025,994 1023,990 1021,985 L1016.5,975.7 C1014,968 1015,960 1020,957.5 C1025,956 1030,957 1031.7,960 L1034,962 C1045,966 1055,963 1062,955 C1065,950 1068,946 1070.7,942.1 Z" fill="#fff" stroke="#000" stroke-width="2.0" stroke-linejoin="round" stroke-linecap="round" />
<clipPath id="cl"><path d="M1070.7,942.1 C1073,935 1080,930 1091.3,929.1 C1096,929 1100,930 1103.2,931.3 L1105.4,922.6 L1159.6,949.7 L1160.7,960.5 C1161,968 1161,975 1160.7,980 C1160,990 1159,996 1156.3,1001.7 C1153,1009 1150,1014 1145.5,1018 C1140,1022 1135,1024.5 1129.2,1025.6 C1123,1027 1118,1027.7 1113,1027.7 C1107,1027 1101,1025 1096.7,1022.3 L1085.9,1012.6 L1079.4,1026.7 L1028.4,997.4 C1025,994 1023,990 1021,985 L1016.5,975.7 C1014,968 1015,960 1020,957.5 C1025,956 1030,957 1031.7,960 L1034,962 C1045,966 1055,963 1062,955 C1065,950 1068,946 1070.7,942.1 Z"/></clipPath><g clip-path="url(#cl)">
<path d="M1092.0,944.0 C1080.0,959.0 1078.0,984.0 1094.0,1002.0" fill="none" stroke="#222" stroke-width="0.9" stroke-linejoin="round" stroke-linecap="round" />
<path d="M1095.6,945.9 C1083.6,960.9 1081.6,985.9 1097.6,1003.9" fill="none" stroke="#222" stroke-width="0.9" stroke-linejoin="round" stroke-linecap="round" />
<path d="M1099.2,947.8 C1087.2,962.8 1085.2,987.8 1101.2,1005.8" fill="none" stroke="#222" stroke-width="0.9" stroke-linejoin="round" stroke-linecap="round" />
<path d="M1102.8,949.7 C1090.8,964.7 1088.8,989.7 1104.8,1007.7" fill="none" stroke="#222" stroke-width="0.9" stroke-linejoin="round" stroke-linecap="round" />
<path d="M1106.4,951.6 C1094.4,966.6 1092.4,991.6 1108.4,1009.6" fill="none" stroke="#222" stroke-width="0.9" stroke-linejoin="round" stroke-linecap="round" />
<path d="M1110.0,953.5 C1098.0,968.5 1096.0,993.5 1112.0,1011.5" fill="none" stroke="#222" stroke-width="0.9" stroke-linejoin="round" stroke-linecap="round" />
<path d="M1113.6,955.4 C1101.6,970.4 1099.6,995.4 1115.6,1013.4" fill="none" stroke="#222" stroke-width="0.9" stroke-linejoin="round" stroke-linecap="round" />
<path d="M1117.2,957.3 C1105.2,972.3 1103.2,997.3 1119.2,1015.3" fill="none" stroke="#222" stroke-width="0.9" stroke-linejoin="round" stroke-linecap="round" />
<path d="M1120.8,959.2 C1108.8,974.2 1106.8,999.2 1122.8,1017.2" fill="none" stroke="#222" stroke-width="0.9" stroke-linejoin="round" stroke-linecap="round" />
<path d="M1124.4,961.1 C1112.4,976.1 1110.4,1001.1 1126.4,1019.1" fill="none" stroke="#222" stroke-width="0.9" stroke-linejoin="round" stroke-linecap="round" />
<path d="M1128.0,963.0 C1116.0,978.0 1114.0,1003.0 1130.0,1021.0" fill="none" stroke="#222" stroke-width="0.9" stroke-linejoin="round" stroke-linecap="round" />
<path d="M1131.6,964.9 C1119.6,979.9 1117.6,1004.9 1133.6,1022.9" fill="none" stroke="#222" stroke-width="0.9" stroke-linejoin="round" stroke-linecap="round" />
<path d="M1135.2,966.8 C1123.2,981.8 1121.2,1006.8 1137.2,1024.8" fill="none" stroke="#222" stroke-width="0.9" stroke-linejoin="round" stroke-linecap="round" />
<path d="M1138.8,968.7 C1126.8,983.7 1124.8,1008.7 1140.8,1026.7" fill="none" stroke="#222" stroke-width="0.9" stroke-linejoin="round" stroke-linecap="round" />
<path d="M1026.5,965.4 L1027.0,996.3" fill="none" stroke="#111" stroke-width="1.0" stroke-linejoin="round" stroke-linecap="round" />
<path d="M1029.8,966.7 L1030.3,998.2" fill="none" stroke="#111" stroke-width="1.0" stroke-linejoin="round" stroke-linecap="round" />
<path d="M1033.1,968.0 L1033.6,1000.1" fill="none" stroke="#111" stroke-width="1.0" stroke-linejoin="round" stroke-linecap="round" />
<path d="M1036.4,969.2 L1036.9,1002.0" fill="none" stroke="#111" stroke-width="1.0" stroke-linejoin="round" stroke-linecap="round" />
<path d="M1039.7,970.5 L1040.2,1004.0" fill="none" stroke="#111" stroke-width="1.0" stroke-linejoin="round" stroke-linecap="round" />
<path d="M1043.0,971.8 L1043.5,1005.9" fill="none" stroke="#111" stroke-width="1.0" stroke-linejoin="round" stroke-linecap="round" />
<path d="M1046.3,973.1 L1046.8,1007.8" fill="none" stroke="#111" stroke-width="1.0" stroke-linejoin="round" stroke-linecap="round" />
<path d="M1049.6,974.4 L1050.1,1009.7" fill="none" stroke="#111" stroke-width="1.0" stroke-linejoin="round" stroke-linecap="round" />
<path d="M1052.9,975.6 L1053.4,1011.6" fill="none" stroke="#111" stroke-width="1.0" stroke-linejoin="round" stroke-linecap="round" />
<path d="M1056.2,976.9 L1056.7,1013.5" fill="none" stroke="#111" stroke-width="1.0" stroke-linejoin="round" stroke-linecap="round" />
<path d="M1059.5,978.2 L1060.0,1015.4" fill="none" stroke="#111" stroke-width="1.0" stroke-linejoin="round" stroke-linecap="round" />
<path d="M1062.8,979.5 L1063.3,1017.4" fill="none" stroke="#111" stroke-width="1.0" stroke-linejoin="round" stroke-linecap="round" />
<path d="M1066.1,980.8 L1066.6,1019.3" fill="none" stroke="#111" stroke-width="1.0" stroke-linejoin="round" stroke-linecap="round" />
<path d="M1069.4,982.0 L1069.9,1021.2" fill="none" stroke="#111" stroke-width="1.0" stroke-linejoin="round" stroke-linecap="round" />
<path d="M1072.7,983.3 L1073.2,1023.1" fill="none" stroke="#111" stroke-width="1.0" stroke-linejoin="round" stroke-linecap="round" />
<path d="M1076.0,984.6 L1076.5,1025.0" fill="none" stroke="#111" stroke-width="1.0" stroke-linejoin="round" stroke-linecap="round" />
<path d="M1106.0,922.9 L1105.0,933.9" fill="none" stroke="#111" stroke-width="1.0" stroke-linejoin="round" stroke-linecap="round" />
<path d="M1109.6,924.7 L1108.6,935.7" fill="none" stroke="#111" stroke-width="1.0" stroke-linejoin="round" stroke-linecap="round" />
<path d="M1113.2,926.5 L1112.2,937.5" fill="none" stroke="#111" stroke-width="1.0" stroke-linejoin="round" stroke-linecap="round" />
<path d="M1116.8,928.3 L1115.8,939.3" fill="none" stroke="#111" stroke-width="1.0" stroke-linejoin="round" stroke-linecap="round" />
<path d="M1120.4,930.1 L1119.4,941.1" fill="none" stroke="#111" stroke-width="1.0" stroke-linejoin="round" stroke-linecap="round" />
<path d="M1124.0,931.9 L1123.0,942.9" fill="none" stroke="#111" stroke-width="1.0" stroke-linejoin="round" stroke-linecap="round" />
<path d="M1127.6,933.7 L1126.6,944.7" fill="none" stroke="#111" stroke-width="1.0" stroke-linejoin="round" stroke-linecap="round" />
<path d="M1131.2,935.5 L1130.2,946.5" fill="none" stroke="#111" stroke-width="1.0" stroke-linejoin="round" stroke-linecap="round" />
<path d="M1134.8,937.3 L1133.8,948.3" fill="none" stroke="#111" stroke-width="1.0" stroke-linejoin="round" stroke-linecap="round" />
<path d="M1138.4,939.1 L1137.4,950.1" fill="none" stroke="#111" stroke-width="1.0" stroke-linejoin="round" stroke-linecap="round" />
<path d="M1142.0,940.9 L1141.0,951.9" fill="none" stroke="#111" stroke-width="1.0" stroke-linejoin="round" stroke-linecap="round" />
<path d="M1145.6,942.7 L1144.6,953.7" fill="none" stroke="#111" stroke-width="1.0" stroke-linejoin="round" stroke-linecap="round" />
<path d="M1149.2,944.5 L1148.2,955.5" fill="none" stroke="#111" stroke-width="1.0" stroke-linejoin="round" stroke-linecap="round" />
<path d="M1152.8,946.3 L1151.8,957.3" fill="none" stroke="#111" stroke-width="1.0" stroke-linejoin="round" stroke-linecap="round" />
<path d="M1156.4,948.1 L1155.4,959.1" fill="none" stroke="#111" stroke-width="1.0" stroke-linejoin="round" stroke-linecap="round" />
</g>
<path d="M1025.2,964.9 L1078.3,985.5 L1079.4,1026.7 M1028.4,997.4 L1025.2,964.9" fill="none" stroke="#000" stroke-width="1.2" stroke-linejoin="round" stroke-linecap="round" />
<path d="M1027,960 L1080,980 L1078.3,985.5" fill="none" stroke="#000" stroke-width="1.0" stroke-linejoin="round" stroke-linecap="round" />
<path d="M1103.2,931.3 L1103.2,934 L1159.6,960.5" fill="none" stroke="#000" stroke-width="1.1" stroke-linejoin="round" stroke-linecap="round" />
<path d="M1092,944 C1110,948 1130,957 1142,972 C1146,985 1140,1000 1130,1012" fill="none" stroke="#000" stroke-width="1.0" stroke-linejoin="round" stroke-linecap="round" />
<path d="M1078.3,985.5 C1078,995 1082,1005 1090,1012 C1100,1020 1115,1022 1128,1020" fill="none" stroke="#000" stroke-width="1.0" stroke-linejoin="round" stroke-linecap="round" />
<path d="M1030,1000 L1079,1020 M1029,1003 L1079,1024" fill="none" stroke="#000" stroke-width="0.8" stroke-linejoin="round" stroke-linecap="round" />
<path d="M1070,942 C1058,938 1048,934 1040,930" fill="none" stroke="#000" stroke-width="3.0" stroke-linecap="round"/>
<path d="M1070,942 C1058,938 1048,934 1040,930" fill="none" stroke="#fff" stroke-width="1.0" stroke-linecap="round"/>
<path d="M1032,914 L1036,910 L1042,926 L1044,932 L1038,934 L1034,928 Z" fill="#fff" stroke="#000" stroke-width="1.3" stroke-linejoin="round" stroke-linecap="round" />
<path d="M1040.0,914.0 L1043.0,908.0" fill="none" stroke="#222" stroke-width="0.9" stroke-linecap="butt" />
<path d="M1018,964 C1010,963 1005,963 1000,963 C988,964 978,966 972,968 C964,972 960,977 960,980 C958,988 956,994 954,996 C950,1000 945,1002 940,1002 C933,1002 927,1001 924,1000 C920,999 916,997 914,994" fill="none" stroke="#000" stroke-width="3.8" stroke-linecap="round"/>
<path d="M1018,964 C1010,963 1005,963 1000,963 C988,964 978,966 972,968 C964,972 960,977 960,980 C958,988 956,994 954,996 C950,1000 945,1002 940,1002 C933,1002 927,1001 924,1000 C920,999 916,997 914,994" fill="none" stroke="#fff" stroke-width="1.5" stroke-linecap="round"/>
<g transform="translate(910,990) rotate(25)"><path d="M-8,-4 L4,-4 L4,-6 L8,-6 L8,6 L4,6 L4,4 L-8,4 Z" fill="#fff" stroke="#000" stroke-width="1.4"/><path d="M-8,0 L4,0 M-3,-4 L-3,4" stroke="#000" stroke-width="0.9" fill="none"/></g>
<path d="M886.0,984.0 L902.0,991.0" fill="none" stroke="#222" stroke-width="1.0" stroke-linecap="butt" />
<path d="M1188.3,966.8 L1175.3,966.8 C1171.3,966.8 1171.3,975.8 1175.3,975.8 L1188.3,975.8" fill="#fff" stroke="#000" stroke-width="1.6" stroke-linejoin="round" stroke-linecap="round" />
<path d="M1188.3,992.9 L1175.3,992.9 C1171.3,992.9 1171.3,1001.9 1175.3,1001.9 L1188.3,1001.9" fill="#fff" stroke="#000" stroke-width="1.6" stroke-linejoin="round" stroke-linecap="round" />
<path d="M1224.5,922.3 C1233,918 1242,916 1252.2,916.1 C1262,916.5 1272,918.5 1279.8,922.3 C1284,926 1288,930 1290.5,934.5 C1295,942 1298,950 1299.8,957.6 C1302,967 1304,976 1304.4,985.2 C1304,994 1302,1003 1298.2,1011.3 C1295,1018 1293,1025 1289,1031.3 C1283,1038 1276,1044 1267.5,1048.2 C1261,1050 1253,1051.5 1246,1051.3 C1239,1050.5 1232,1049 1226,1046.7 C1220,1044 1215,1041 1210.7,1037.4 C1204,1032 1198,1027 1193.8,1022 C1190,1017 1187.5,1012 1186.1,1006.7 C1184.5,998 1184,990 1184.6,982.2 C1185.5,974 1188,966 1190.7,959.1 C1194,952 1198,946 1203,940.7 C1210,933 1217,927 1224.5,922.3 Z" fill="#fff" stroke="#000" stroke-width="2.0" stroke-linejoin="round" stroke-linecap="round" />
<ellipse cx="1246" cy="982.2" rx="44.5" ry="61.4" transform="rotate(15 1246 982.2)" fill="none" stroke="#000" stroke-width="1.1"/>
<ellipse cx="1243" cy="982.2" rx="41" ry="58" transform="rotate(15 1243 982.2)" fill="none" stroke="#000" stroke-width="0.9"/>
<ellipse cx="1250" cy="984" rx="34" ry="52" transform="rotate(15 1250 984)" fill="none" stroke="#000" stroke-width="1.0"/>
<ellipse cx="1240" cy="982" rx="24" ry="40" transform="rotate(15 1240 982)" fill="none" stroke="#000" stroke-width="1.2"/>
<ellipse cx="1242" cy="981" rx="20.5" ry="36" transform="rotate(15 1242 981)" fill="none" stroke="#444" stroke-width="0.9"/>
<path d="M1244,955 C1243,950 1248,947 1252,950 L1258,958 C1258,963 1253,966 1249,963 Z" fill="none" stroke="#000" stroke-width="1.0" stroke-linejoin="round" stroke-linecap="round" />
<path d="M1216,964 L1222,962 L1222,970 L1216,972 Z" fill="none" stroke="#000" stroke-width="0.9" stroke-linejoin="round" stroke-linecap="round" />
<path d="M1188,975 L1198,978 M1189,1003 L1197,1005 M1217,936 L1222,938" fill="none" stroke="#000" stroke-width="0.9" stroke-linejoin="round" stroke-linecap="round" />
<path d="M1223.7,899.5 L1223.7,923.0" fill="none" stroke="#333" stroke-width="1.3" stroke-linecap="butt" />
<path d="M1235.3,978.3 L1307.4,1019.0" fill="none" stroke="#222" stroke-width="1.0" stroke-linecap="butt" />
<ellipse cx="989.8" cy="836.3" rx="14" ry="19" transform="rotate(15 989.8 836.3)" fill="#fff" stroke="#000" stroke-width="1.7"/>
<ellipse cx="993.5" cy="835.5" rx="11" ry="17" transform="rotate(15 993.5 835.5)" fill="url(#dots2)" stroke="#000" stroke-width="1.2"/>
<ellipse cx="995" cy="835" rx="4" ry="7" transform="rotate(15 995 835)" fill="#fff" stroke="#000" stroke-width="1.0"/>
<path d="M961.4,843.0 L972.0,843.0" fill="none" stroke="#222" stroke-width="1.3" stroke-linecap="butt" />
<path d="M995.5,882.8 L1006.0,858.0" fill="none" stroke="#222" stroke-width="1.0" stroke-linecap="butt" />
<path d="M1007.5,853 L1002,859 L1009,861 Z" fill="#000"/>
<path d="M972,249 C960,258 955,275 958,290 C961,300 970,303 980,299 C993,293 1001,278 999.5,262 C999,255 996,251 992,249 L991,255 C994,259 995,266 993,274 C990,287 982,295 973,296 C965,296 962,289 963,280 C964,268 968,259 975,254 Z" fill="#fff" stroke="#000" stroke-width="1.6"/>
<path d="M968,252 C967,247 971,245 974,247 L976,255 C974,258 970,258 968,252 Z M983,249 C983,244 988,243 990,245.5 L991.5,253 C989,256 985,256 983,249 Z" fill="#fff" stroke="#000" stroke-width="1.3" stroke-linejoin="round" stroke-linecap="round" />
<circle cx="973" cy="252" r="0.8" fill="#000"/><circle cx="986.5" cy="250" r="0.8" fill="#000"/>
<ellipse cx="1014" cy="295" rx="18.5" ry="26" transform="rotate(22 1014 295)" fill="#fff" stroke="#000" stroke-width="1.8" />
<ellipse cx="1016" cy="295.5" rx="15.5" ry="22.5" transform="rotate(22 1016 295.5)" fill="none" stroke="#555" stroke-width="0.8" />
<ellipse cx="1017.5" cy="296" rx="10.5" ry="14.5" transform="rotate(22 1017.5 296)" fill="none" stroke="#000" stroke-width="1.1" />
<ellipse cx="1050" cy="316" rx="19" ry="26.5" transform="rotate(22 1050 316)" fill="#fff" stroke="#000" stroke-width="1.8" />
<ellipse cx="1051.5" cy="316" rx="15" ry="22.5" transform="rotate(22 1051.5 316)" fill="none" stroke="#000" stroke-width="1.2" />
<rect x="1065.6" y="321.5" width="1.8" height="1.8" fill="#000"/>
<rect x="1062.0" y="328.2" width="1.8" height="1.8" fill="#000"/>
<rect x="1057.2" y="333.6" width="1.8" height="1.8" fill="#000"/>
<rect x="1051.6" y="337.2" width="1.8" height="1.8" fill="#000"/>
<rect x="1045.9" y="338.7" width="1.8" height="1.8" fill="#000"/>
<rect x="1040.6" y="337.8" width="1.8" height="1.8" fill="#000"/>
<rect x="1036.2" y="334.7" width="1.8" height="1.8" fill="#000"/>
<rect x="1033.1" y="329.7" width="1.8" height="1.8" fill="#000"/>
<rect x="1031.7" y="323.3" width="1.8" height="1.8" fill="#000"/>
<rect x="1032.0" y="316.1" width="1.8" height="1.8" fill="#000"/>
<rect x="1034.0" y="308.7" width="1.8" height="1.8" fill="#000"/>
<rect x="1037.6" y="302.0" width="1.8" height="1.8" fill="#000"/>
<rect x="1042.4" y="296.6" width="1.8" height="1.8" fill="#000"/>
<rect x="1048.0" y="293.0" width="1.8" height="1.8" fill="#000"/>
<rect x="1053.7" y="291.5" width="1.8" height="1.8" fill="#000"/>
<rect x="1059.0" y="292.4" width="1.8" height="1.8" fill="#000"/>
<rect x="1063.4" y="295.5" width="1.8" height="1.8" fill="#000"/>
<rect x="1066.5" y="300.5" width="1.8" height="1.8" fill="#000"/>
<rect x="1067.9" y="306.9" width="1.8" height="1.8" fill="#000"/>
<rect x="1067.6" y="314.1" width="1.8" height="1.8" fill="#000"/>
<path d="M1094.3,313.5 L1101.6,316.7 A17,24.5 24 0 1 1081.7,361.5 L1074.4,358.3 A17,24.5 24 0 1 1094.3,313.5 Z" fill="#fff" stroke="#000" stroke-width="1.8" stroke-linejoin="round" stroke-linecap="round" />
<ellipse cx="1091.7" cy="339.1" rx="17" ry="24.5" transform="rotate(24.0 1091.7 339.1)" fill="#fff" stroke="#000" stroke-width="1.8" />
<ellipse cx="1092.1" cy="339.3" rx="14" ry="20" transform="rotate(24.0 1092.1 339.3)" fill="none" stroke="#555" stroke-width="0.8" />
<ellipse cx="1092.6" cy="339.5" rx="8.5" ry="12" transform="rotate(24.0 1092.6 339.5)" fill="none" stroke="#000" stroke-width="1.0" />
<ellipse cx="1092.6" cy="339.5" rx="5.6" ry="8" transform="rotate(24.0 1092.6 339.5)" fill="none" stroke="#000" stroke-width="1.0" />
<ellipse cx="1092.6" cy="339.5" rx="2.5" ry="3.5" transform="rotate(24.0 1092.6 339.5)" fill="none" stroke="#000" stroke-width="1.0" />
<path d="M1092.0,340.0 L1110.0,350.0" fill="none" stroke="#222" stroke-width="0.9" stroke-linecap="butt" />
<path d="M1112.0,352.0 L1151.0,374.3" fill="none" stroke="#222" stroke-width="0.9" stroke-linecap="butt" stroke-dasharray="6,4"/>
<path d="M1095.9,438.0 L1101.4,440.4 A13.5,20 24 0 1 1085.1,477.0 L1079.6,474.6 A13.5,20 24 0 1 1095.9,438.0 Z" fill="#fff" stroke="#000" stroke-width="1.8" stroke-linejoin="round" stroke-linecap="round" />
<ellipse cx="1093.2" cy="458.7" rx="13.5" ry="20" transform="rotate(24.0 1093.2 458.7)" fill="#fff" stroke="#000" stroke-width="1.8" />
<ellipse cx="1093.7" cy="458.9" rx="10.5" ry="15.5" transform="rotate(24.0 1093.7 458.9)" fill="none" stroke="#000" stroke-width="1.0" />
<ellipse cx="1094.2" cy="459.1" rx="8" ry="12" transform="rotate(24.0 1094.2 459.1)" fill="none" stroke="#555" stroke-width="0.8" />
<path d="M1199.2,375.7 L1204.7,378.1 A14.5,22 24 0 1 1186.8,418.3 L1181.3,415.9 A14.5,22 24 0 1 1199.2,375.7 Z" fill="#fff" stroke="#000" stroke-width="1.8" stroke-linejoin="round" stroke-linecap="round" />
<ellipse cx="1195.7" cy="398.2" rx="14.5" ry="22" transform="rotate(24.0 1195.7 398.2)" fill="#fff" stroke="#000" stroke-width="1.8" />
<ellipse cx="1196.2" cy="398.4" rx="11.5" ry="17" transform="rotate(24.0 1196.2 398.4)" fill="none" stroke="#000" stroke-width="1.0" />
<ellipse cx="1196.7" cy="398.6" rx="9" ry="13.5" transform="rotate(24.0 1196.7 398.6)" fill="none" stroke="#555" stroke-width="0.8" />
<g transform="translate(1050,493.5)"><path d="M2,12 L14,6 L23,14 L11,22 Z" fill="url(#dots2)" stroke="#000" stroke-width="1.4"/><path d="M2,12 L0,16 L11,26 L11,22 M11,26 L24,18 L23,14" fill="#000" stroke="#000" stroke-width="1.4"/><path d="M8,9 L14,-8 M18,10 L24,-6" fill="none" stroke="#000" stroke-width="1.1"/><path d="M13,-12 L16,-18 M22,-9 L25,-15" fill="none" stroke="#000" stroke-width="1" stroke-dasharray="2,2"/></g>
<g transform="translate(1151,437)"><path d="M2,12 L14,6 L23,14 L11,22 Z" fill="url(#dots2)" stroke="#000" stroke-width="1.4"/><path d="M2,12 L0,16 L11,26 L11,22 M11,26 L24,18 L23,14" fill="#000" stroke="#000" stroke-width="1.4"/><path d="M8,9 L14,-8 M18,10 L24,-6" fill="none" stroke="#000" stroke-width="1.1"/><path d="M13,-12 L16,-18 M22,-9 L25,-15" fill="none" stroke="#000" stroke-width="1" stroke-dasharray="2,2"/></g>
<path d="M1262.6,437.3 L1241.3,426.0 L1196.0,399.5" fill="none" stroke="#222" stroke-width="0.9" stroke-linecap="butt" />
<path d="M1241.3,426.0 L1203.0,448.5" fill="none" stroke="#222" stroke-width="0.9" stroke-linecap="butt" />
<path d="M1188.0,457.5 L1140.0,484.5 L1093.0,458.0" fill="none" stroke="#222" stroke-width="0.9" stroke-linecap="butt" />
<path d="M1173.8,372.0 L1163.0,390.0 L1151.3,416.6 L1095.0,416.6" fill="none" stroke="#334" stroke-width="0.9" stroke-linecap="butt" />
<path d="M1166.0,370.0 L1180.0,377.0" fill="none" stroke="#222" stroke-width="0.9" stroke-linecap="butt" />
<path d="M1157.0,392.0 L1172.0,401.0" fill="none" stroke="#222" stroke-width="0.9" stroke-linecap="butt" />
<path d="M1167,372 L1163,380 L1169,378 Z M1160,397 L1160,389 L1155,393 Z" fill="#000"/>
<path d="M1078.0,434.0 L1068.0,450.0 L1057.9,457.5 L1050.0,474.4 L1005.0,474.4" fill="none" stroke="#334" stroke-width="0.9" stroke-linecap="butt" />
<path d="M1071.0,433.0 L1085.0,441.0" fill="none" stroke="#222" stroke-width="0.9" stroke-linecap="butt" />
<path d="M1060.0,454.0 L1072.0,461.0" fill="none" stroke="#222" stroke-width="0.9" stroke-linecap="butt" />
<path d="M1073,437 L1068,445 L1074,443 Z M1061,459 L1061,451 L1056,455 Z" fill="#000"/>
<path d="M1047.6,277.0 L1047.6,291.7" fill="none" stroke="#445" stroke-width="1.2" stroke-linecap="butt" />
<path d="M1085.4,290.5 L1085.4,312.4" fill="none" stroke="#445" stroke-width="1.2" stroke-linecap="butt" />
<path d="M134.5,521.5 L151.5,512.0 L154.2,506.7 L148.3,506.2 L131.3,515.7 Z" fill="#fff" stroke="#000" stroke-width="1.4" stroke-linejoin="round" stroke-linecap="round" />
<path d="M136.5,520.9 L134.1,513.6" fill="none" stroke="#222" stroke-width="1.0" stroke-linejoin="round" stroke-linecap="round" />
<path d="M139.0,519.5 L136.6,512.2" fill="none" stroke="#222" stroke-width="1.0" stroke-linejoin="round" stroke-linecap="round" />
<path d="M141.6,518.1 L139.2,510.7" fill="none" stroke="#222" stroke-width="1.0" stroke-linejoin="round" stroke-linecap="round" />
<path d="M144.1,516.7 L141.7,509.3" fill="none" stroke="#222" stroke-width="1.0" stroke-linejoin="round" stroke-linecap="round" />
<path d="M146.7,515.3 L144.3,507.9" fill="none" stroke="#222" stroke-width="1.0" stroke-linejoin="round" stroke-linecap="round" />
<path d="M149.2,513.8 L146.8,506.5" fill="none" stroke="#222" stroke-width="1.0" stroke-linejoin="round" stroke-linecap="round" />
<path d="M151.8,512.4 L149.4,505.0" fill="none" stroke="#222" stroke-width="1.0" stroke-linejoin="round" stroke-linecap="round" />
<ellipse cx="129.8" cy="520.3" rx="3.8500000000000005" ry="7" transform="rotate(-29.134292197226138 129.8 520.3)" fill="#fff" stroke="#000" stroke-width="1.6" />
<ellipse cx="128.9265190108862" cy="520.7868582562273" rx="2.4499999999999997" ry="4.8999999999999995" transform="rotate(-29.134292197226138 128.9265190108862 520.7868582562273)" fill="none" stroke="#444" stroke-width="0.8" />
<path d="M127.2,517.7 L130.6,523.8" fill="none" stroke="#444" stroke-width="0.9" stroke-linejoin="round" stroke-linecap="round" />
<path d="M140.7,525.0 L140.7,543.3" fill="none" stroke="#445" stroke-width="1.3" stroke-linecap="butt" />
<path d="M155.6,506.7 L175.9,497.2" fill="none" stroke="#222" stroke-width="0.9" stroke-linecap="butt" />
<path d="M237.8,661.0 L277.4,638.3 L280.2,632.7 L273.9,632.3 L234.3,654.9 Z" fill="#fff" stroke="#000" stroke-width="1.4" stroke-linejoin="round" stroke-linecap="round" />
<path d="M239.8,660.4 L237.1,652.7" fill="none" stroke="#222" stroke-width="1.0" stroke-linejoin="round" stroke-linecap="round" />
<path d="M242.9,658.7 L240.2,650.9" fill="none" stroke="#222" stroke-width="1.0" stroke-linejoin="round" stroke-linecap="round" />
<path d="M246.0,656.9 L243.4,649.1" fill="none" stroke="#222" stroke-width="1.0" stroke-linejoin="round" stroke-linecap="round" />
<path d="M249.2,655.1 L246.5,647.3" fill="none" stroke="#222" stroke-width="1.0" stroke-linejoin="round" stroke-linecap="round" />
<path d="M252.3,653.3 L249.6,645.6" fill="none" stroke="#222" stroke-width="1.0" stroke-linejoin="round" stroke-linecap="round" />
<path d="M255.4,651.5 L252.7,643.8" fill="none" stroke="#222" stroke-width="1.0" stroke-linejoin="round" stroke-linecap="round" />
<path d="M258.6,649.7 L255.9,642.0" fill="none" stroke="#222" stroke-width="1.0" stroke-linejoin="round" stroke-linecap="round" />
<path d="M261.7,647.9 L259.0,640.2" fill="none" stroke="#222" stroke-width="1.0" stroke-linejoin="round" stroke-linecap="round" />
<path d="M264.8,646.1 L262.1,638.4" fill="none" stroke="#222" stroke-width="1.0" stroke-linejoin="round" stroke-linecap="round" />
<path d="M267.9,644.3 L265.3,636.6" fill="none" stroke="#222" stroke-width="1.0" stroke-linejoin="round" stroke-linecap="round" />
<path d="M271.1,642.6 L268.4,634.8" fill="none" stroke="#222" stroke-width="1.0" stroke-linejoin="round" stroke-linecap="round" />
<path d="M274.2,640.8 L271.5,633.0" fill="none" stroke="#222" stroke-width="1.0" stroke-linejoin="round" stroke-linecap="round" />
<path d="M277.3,639.0 L274.6,631.2" fill="none" stroke="#222" stroke-width="1.0" stroke-linejoin="round" stroke-linecap="round" />
<ellipse cx="232.8" cy="659.8" rx="4.125" ry="7.5" transform="rotate(-29.757897148493143 232.8 659.8)" fill="#fff" stroke="#000" stroke-width="1.6" />
<ellipse cx="231.9318695878948" cy="660.2963361638829" rx="2.625" ry="5.25" transform="rotate(-29.757897148493143 231.9318695878948 660.2963361638829)" fill="none" stroke="#444" stroke-width="0.8" />
<path d="M230.1,657.0 L233.8,663.6" fill="none" stroke="#444" stroke-width="0.9" stroke-linejoin="round" stroke-linecap="round" />
<path d="M266.7,648.0 L266.7,670.7" fill="none" stroke="#445" stroke-width="1.3" stroke-linecap="butt" />
<path d="M284.3,630.0 L299.2,620.5" fill="none" stroke="#222" stroke-width="0.9" stroke-linecap="butt" />
<path d="M479.6,806.6 L481.4,808.4 L526.6,839.2 L528.4,897 L524.8,895.2 L479.6,869.9 C475,866 473,862 472.4,859 C471,852 470.5,845 470.6,839.2 C471,832 472,825 474.2,819.3 C475.5,814 477,810 479.6,806.6 Z" fill="#fff" stroke="#000" stroke-width="1.9" stroke-linejoin="round" stroke-linecap="round" />
<path d="M481.4,808.4 L481,812 L524,841 L526.6,839.2 M524,841 L525,893" fill="none" stroke="#000" stroke-width="1.4" stroke-linejoin="round" stroke-linecap="round" />
<path d="M516,850 C519,860 518,880 521,892" fill="none" stroke="#555" stroke-width="0.8" stroke-linejoin="round" stroke-linecap="round" />
<ellipse cx="476" cy="846.4" rx="3.5" ry="4.5" fill="none" stroke="#000" stroke-width="1"/>
<path d="M442.3,869.4 L453.7,863.7 L456.5,858.8 L451.0,858.1 L439.5,863.9 Z" fill="#fff" stroke="#000" stroke-width="1.4" stroke-linejoin="round" stroke-linecap="round" />
<path d="M444.3,868.9 L442.4,861.9" fill="none" stroke="#222" stroke-width="1.0" stroke-linejoin="round" stroke-linecap="round" />
<path d="M446.7,867.7 L444.8,860.7" fill="none" stroke="#222" stroke-width="1.0" stroke-linejoin="round" stroke-linecap="round" />
<path d="M449.1,866.5 L447.2,859.5" fill="none" stroke="#222" stroke-width="1.0" stroke-linejoin="round" stroke-linecap="round" />
<path d="M451.5,865.3 L449.6,858.3" fill="none" stroke="#222" stroke-width="1.0" stroke-linejoin="round" stroke-linecap="round" />
<path d="M453.9,864.1 L452.0,857.0" fill="none" stroke="#222" stroke-width="1.0" stroke-linejoin="round" stroke-linecap="round" />
<ellipse cx="438" cy="868.1" rx="3.575" ry="6.5" transform="rotate(-26.68879996848462 438 868.1)" fill="#fff" stroke="#000" stroke-width="1.6" />
<ellipse cx="437.1065407970198" cy="868.5491443560928" rx="2.275" ry="4.55" transform="rotate(-26.68879996848462 437.1065407970198 868.5491443560928)" fill="none" stroke="#444" stroke-width="0.8" />
<path d="M435.6,865.6 L438.6,871.5" fill="none" stroke="#444" stroke-width="0.9" stroke-linejoin="round" stroke-linecap="round" />
<path d="M437.2,808.4 L437.2,861.0" fill="none" stroke="#445" stroke-width="1.3" stroke-linecap="butt" />
<path d="M457.0,858.7 L474.2,849.1" fill="none" stroke="#222" stroke-width="0.9" stroke-linecap="butt" />
<path d="M481.4,781.3 L481.4,806.6" fill="none" stroke="#445" stroke-width="1.3" stroke-linecap="butt" />
<path d="M510.4,777.7 C503,780 497,782 495.9,785 C491,790 489,794 490.5,797.6 C492,803 495,806 499.5,808.4 C508,810 518,809 528.4,808.4 C540,807 550,806 556,805" fill="none" stroke="#000" stroke-width="4" stroke-linecap="round"/>
<path d="M510.4,777.7 C503,780 497,782 495.9,785 C491,790 489,794 490.5,797.6 C492,803 495,806 499.5,808.4 C508,810 518,809 528.4,808.4 C540,807 550,806 556,805" fill="none" stroke="#fff" stroke-width="1.6" stroke-linecap="round"/>
<g transform="translate(521,777) rotate(5)"><path d="M-8,-4 L4,-4 L4,-6 L8,-6 L8,6 L4,6 L4,4 L-8,4 Z" fill="#fff" stroke="#000" stroke-width="1.4"/><path d="M-8,0 L4,0 M-3,-4 L-3,4" stroke="#000" stroke-width="0.9" fill="none"/></g>
<path d="M555.6,798.5 L577.2,787.7 L591.7,794 L591.7,803 L570,814.8 L557.4,808.4 Z" fill="#fff" stroke="#000" stroke-width="1.6" stroke-linejoin="round" stroke-linecap="round" />
<path d="M555.6,798.5 L570,805.5 L591.7,794 M570,805.5 L570,814.8" fill="none" stroke="#000" stroke-width="1.0" stroke-linejoin="round" stroke-linecap="round" />
<path d="M521.2,757.0 L521.2,770.5" fill="none" stroke="#445" stroke-width="1.3" stroke-linecap="butt" />
<path d="M533.9,775.9 L548.3,773.2" fill="none" stroke="#222" stroke-width="1.0" stroke-linecap="butt" />
<path d="M591.7,789.5 L627.8,770.5" fill="none" stroke="#222" stroke-width="0.9" stroke-linecap="butt" />
<path d="M617.9,759.6 L647.7,745.2 L655,748.8 L656.8,756 L655,790.4 L642.3,801.2 L636.9,797.6 L633.3,794 L624.2,790.4 L620.6,779.5 L618.8,770.5 Z" fill="#fff" stroke="#000" stroke-width="1.7" stroke-linejoin="round" stroke-linecap="round" />
<path d="M617.9,759.6 L621,763 L638,756 L641,800 M638,756 L650,750 L652,790" fill="none" stroke="#000" stroke-width="1.0" stroke-linejoin="round" stroke-linecap="round" />
<path d="M621,770 L636,766 M623,780 L637,776" fill="none" stroke="#000" stroke-width="0.9" stroke-linejoin="round" stroke-linecap="round" />
<ellipse cx="628" cy="785" rx="4.5" ry="5" fill="none" stroke="#000" stroke-width="1"/>
<rect x="644" y="764" width="4" height="6" fill="none" stroke="#333" stroke-width="0.8"/>
<path d="M625.1,731.0 L625.1,754.2" fill="none" stroke="#000" stroke-width="1.2" stroke-linejoin="miter" stroke-linecap="square"/>
<path d="M625.1,737.0 L648.6,737.0 L648.6,740.7" fill="none" stroke="#000" stroke-width="1.2" stroke-linejoin="miter" stroke-linecap="square"/>
<path d="M606.7,807.6 L618.2,800.9 L620.6,796.0 L615.2,795.7 L603.7,802.4 Z" fill="#fff" stroke="#000" stroke-width="1.4" stroke-linejoin="round" stroke-linecap="round" />
<path d="M608.6,807.0 L606.5,800.3" fill="none" stroke="#222" stroke-width="1.0" stroke-linejoin="round" stroke-linecap="round" />
<path d="M611.0,805.6 L608.8,798.9" fill="none" stroke="#222" stroke-width="1.0" stroke-linejoin="round" stroke-linecap="round" />
<path d="M613.4,804.2 L611.2,797.5" fill="none" stroke="#222" stroke-width="1.0" stroke-linejoin="round" stroke-linecap="round" />
<path d="M615.8,802.8 L613.6,796.1" fill="none" stroke="#222" stroke-width="1.0" stroke-linejoin="round" stroke-linecap="round" />
<path d="M618.2,801.4 L616.0,794.7" fill="none" stroke="#222" stroke-width="1.0" stroke-linejoin="round" stroke-linecap="round" />
<ellipse cx="602.5" cy="806.6" rx="3.4100000000000006" ry="6.2" transform="rotate(-30.354748287901167 602.5 806.6)" fill="#fff" stroke="#000" stroke-width="1.6" />
<ellipse cx="601.6370869387406" cy="807.1053524005166" rx="2.17" ry="4.34" transform="rotate(-30.354748287901167 601.6370869387406 807.1053524005166)" fill="none" stroke="#444" stroke-width="0.8" />
<path d="M600.1,804.4 L603.2,809.8" fill="none" stroke="#444" stroke-width="0.9" stroke-linejoin="round" stroke-linecap="round" />
<path d="M603.4,812.5 L603.4,834.6" fill="none" stroke="#445" stroke-width="1.3" stroke-linecap="butt" />
<path d="M620.6,795.8 L658.6,774.1" fill="none" stroke="#222" stroke-width="0.9" stroke-linecap="butt" />
<circle cx="199.3" cy="835.4" r="19.9" fill="none" stroke="#333" stroke-width="1.3"/>
<path d="M177,816.5 C181,800.4 218,800.4 222.5,816.5 C222,820 219,820 217.5,817 C213,812 186,812 182,817 C180,820 177,820 177,816.5 Z" fill="none" stroke="#333" stroke-width="1.2" stroke-linejoin="round" stroke-linecap="round" />
<path d="M177,853 C181,869 218,869 222.5,853 C222,849.5 219,849.5 217.5,852.5 C213,857.5 186,857.5 182,852.5 C180,849.5 177,849.5 177,853 Z" fill="none" stroke="#333" stroke-width="1.2" stroke-linejoin="round" stroke-linecap="round" />
<circle cx="181.2" cy="815.9" r="1.6" fill="#000"/>
<circle cx="218.8" cy="815.9" r="1.6" fill="#000"/>
<circle cx="181.2" cy="853.5" r="1.6" fill="#000"/>
<circle cx="218.8" cy="853.5" r="1.6" fill="#000"/>
<circle cx="181.2" cy="912.8" r="1.6" fill="#000"/>
<circle cx="218.8" cy="912.8" r="1.6" fill="#000"/>
<circle cx="181.2" cy="935.2" r="1.6" fill="#000"/>
<circle cx="218.8" cy="935.2" r="1.6" fill="#000"/>
<rect x="161" y="829" width="17.3" height="12" rx="2" fill="#111"/>
<rect x="221.7" y="829" width="17.3" height="12" rx="2" fill="#111"/>
<path d="M181.2,815.9 L150.1,815.9 L150.1,901.2 L181.2,901.2 L181.2,912.8" fill="none" stroke="#333" stroke-width="1.3" stroke-linejoin="round" stroke-linecap="round" />
<path d="M218.8,815.9 L244.8,815.9 L244.8,834.7 L239.0,834.7" fill="none" stroke="#333" stroke-width="1.3" stroke-linejoin="round" stroke-linecap="round" />
<path d="M161.0,834.7 L154.5,834.7 L154.5,853.5 L181.2,853.5" fill="none" stroke="#333" stroke-width="1.3" stroke-linejoin="round" stroke-linecap="round" />
<path d="M218.8,853.5 L244.8,853.5 L244.8,901.2 L218.8,901.2 L218.8,912.8" fill="none" stroke="#333" stroke-width="1.3" stroke-linejoin="round" stroke-linecap="round" />
<path d="M181.2,912.8 L181.2,921.4 L196.4,921.4" fill="none" stroke="#333" stroke-width="1.1" stroke-linejoin="round" stroke-linecap="round" />
<path d="M202.9,921.4 L218.8,921.4 L218.8,912.8" fill="none" stroke="#333" stroke-width="1.1" stroke-linejoin="round" stroke-linecap="round" />
<path d="M196.4,918.0 L196.4,925.0" fill="none" stroke="#333" stroke-width="1.1" stroke-linejoin="round" stroke-linecap="round" />
<path d="M202.9,918.0 L202.9,925.0" fill="none" stroke="#333" stroke-width="1.1" stroke-linejoin="round" stroke-linecap="round" />
<path d="M174,907.7 L226,907.7 L226,942.4 L174,942.4 Z" fill="none" stroke="#555" stroke-width="1.2" stroke-dasharray="3,2.2"/>
<path d="M181.2,935.2 L181.2,950.4" fill="none" stroke="#333" stroke-width="1.1" stroke-linejoin="round" stroke-linecap="round" />
<path d="M177.2,956 C178.2,951 184.2,951 185.2,956" fill="none" stroke="#333" stroke-width="1.1" stroke-linejoin="round" stroke-linecap="round" />
<path d="M218.8,935.2 L218.8,950.4" fill="none" stroke="#333" stroke-width="1.1" stroke-linejoin="round" stroke-linecap="round" />
<path d="M214.8,956 C215.8,951 221.8,951 222.8,956" fill="none" stroke="#333" stroke-width="1.1" stroke-linejoin="round" stroke-linecap="round" />
<path d="M737.5,82.0 L737.5,65.7 L855.2,65.7 L1082.7,194.2 L1082.7,266.0" fill="none" stroke="#000" stroke-width="2.0" stroke-linejoin="miter" stroke-linecap="square"/>
<path d="M737.5,100.5 L737.5,112.0" fill="none" stroke="#000" stroke-width="1.5" stroke-linejoin="miter" stroke-linecap="square"/>
<path d="M844.6,65.7 L844.6,113.0 L827.0,113.0 L827.0,150.0" fill="none" stroke="#000" stroke-width="2.0" stroke-linejoin="miter" stroke-linecap="square"/>
<path d="M844.6,113.0 L874.4,113.0 L919.5,135.0 L919.5,154.0" fill="none" stroke="#000" stroke-width="2.0" stroke-linejoin="miter" stroke-linecap="square"/>
<path d="M919.5,171.0 L919.5,183.6" fill="none" stroke="#000" stroke-width="1.5" stroke-linejoin="miter" stroke-linecap="square"/>
<path d="M971.5,111.0 L971.5,127.2" fill="none" stroke="#000" stroke-width="2.0" stroke-linejoin="miter" stroke-linecap="square"/>
<path d="M998.5,206.0 L998.5,176.6 L1077.3,222.1" fill="none" stroke="#000" stroke-width="2.0" stroke-linejoin="miter" stroke-linecap="square"/>
<path d="M1047.5,205.2 L1047.5,258.0" fill="none" stroke="#000" stroke-width="2.0" stroke-linejoin="miter" stroke-linecap="square"/>
<path d="M1089.5,266.0 L1089.5,228.3 L1212.0,298.3 L1212.0,375.4" fill="none" stroke="#000" stroke-width="2.0" stroke-linejoin="miter" stroke-linecap="square"/>
<path d="M1110.5,238.8 L1110.5,65.5" fill="none" stroke="#000" stroke-width="2.0" stroke-linejoin="miter" stroke-linecap="square"/>
<path d="M1130.6,254.5 L1130.6,306.0" fill="none" stroke="#000" stroke-width="2.0" stroke-linejoin="miter" stroke-linecap="square"/>
<path d="M997.6,224.8 L997.6,240.5" fill="none" stroke="#446" stroke-width="1.2" stroke-linecap="butt" />
<path d="M980.0,241.4 L980.0,231.8 L1012.5,251.0 L1012.5,265.0" fill="none" stroke="#000" stroke-width="1.5" stroke-linejoin="miter" stroke-linecap="square"/>
<path d="M979.8,309.6 L979.8,521.6 L1181.6,521.6 L1181.6,476.6 L1512.0,476.6 L1512.0,420.0 L1455.0,420.0" fill="none" stroke="#000" stroke-width="2.0" stroke-linejoin="miter" stroke-linecap="square"/>
<path d="M1012.9,322.5 L1012.9,345.0 L979.8,345.0" fill="none" stroke="#000" stroke-width="2.0" stroke-linejoin="miter" stroke-linecap="square"/>
<path d="M1091.0,477.8 L1091.0,521.6" fill="none" stroke="#000" stroke-width="2.0" stroke-linejoin="miter" stroke-linecap="square"/>
<path d="M1129.9,323.6 L1129.9,343.9 L1090.5,403.5 L1090.5,438.4" fill="none" stroke="#223" stroke-width="1.2" stroke-linecap="butt" />
<path d="M1196.3,421.5 L1196.3,476.6" fill="none" stroke="#000" stroke-width="2.0" stroke-linejoin="miter" stroke-linecap="square"/>
<path d="M1296.9,394.5 L1296.9,476.6" fill="none" stroke="#000" stroke-width="2.0" stroke-linejoin="miter" stroke-linecap="square"/>
<path d="M1111.4,235.0 L1111.4,65.5 L1511.6,65.5 L1511.6,365.7 L1503.0,365.7" fill="none" stroke="#000" stroke-width="2.0" stroke-linejoin="miter" stroke-linecap="square"/>
<path d="M1233.5,65.5 L1233.5,105.0" fill="none" stroke="#000" stroke-width="2.0" stroke-linejoin="miter" stroke-linecap="square"/>
<path d="M1233.5,122.0 L1233.5,142.0" fill="none" stroke="#000" stroke-width="1.5" stroke-linejoin="miter" stroke-linecap="square"/>
<path d="M1289.6,65.5 L1289.6,109.0 L1349.0,109.0" fill="none" stroke="#000" stroke-width="2.0" stroke-linejoin="miter" stroke-linecap="square"/>
<path d="M1361.0,82.6 L1452.5,82.6 L1452.5,148.6 L1412.0,148.6" fill="none" stroke="#000" stroke-width="2.0" stroke-linejoin="miter" stroke-linecap="square"/>
<path d="M1452.5,109.0 L1461.5,109.0" fill="none" stroke="#000" stroke-width="2.0" stroke-linejoin="miter" stroke-linecap="square"/>
<path d="M1442.0,123.4 L1452.5,123.4" fill="none" stroke="#000" stroke-width="2.0" stroke-linejoin="miter" stroke-linecap="square"/>
<path d="M1388.0,123.4 L1413.5,123.4" fill="none" stroke="#222" stroke-width="1.2" stroke-linecap="butt" />
<path d="M1502.0,109.0 L1511.6,109.0" fill="none" stroke="#000" stroke-width="2.0" stroke-linejoin="miter" stroke-linecap="square"/>
<path d="M1511.6,185.5 L1523.0,185.5" fill="none" stroke="#000" stroke-width="2.0" stroke-linejoin="miter" stroke-linecap="square"/>
<path d="M1479.5,196.0 L1479.5,218.5" fill="none" stroke="#000" stroke-width="1.5" stroke-linejoin="miter" stroke-linecap="square"/>
<path d="M1453.8,255.7 L1511.6,255.7" fill="none" stroke="#000" stroke-width="2.0" stroke-linejoin="miter" stroke-linecap="square"/>
<path d="M1503.0,329.8 L1511.6,329.8" fill="none" stroke="#000" stroke-width="2.0" stroke-linejoin="miter" stroke-linecap="square"/>
<path d="M1412.0,365.7 L1477.8,365.7" fill="none" stroke="#446" stroke-width="1.2" stroke-linecap="butt" />
<path d="M1511.6,448.0 L1520.8,448.0" fill="none" stroke="#000" stroke-width="2.0" stroke-linejoin="miter" stroke-linecap="square"/>
<path d="M1333.6,350.0 L1333.6,375.3" fill="none" stroke="#000" stroke-width="1.5" stroke-linejoin="miter" stroke-linecap="square"/>
<path d="M1495.5,504.4 L1512.0,504.4 L1512.0,980.0 L1494.0,980.0" fill="none" stroke="#000" stroke-width="2.0" stroke-linejoin="miter" stroke-linecap="square"/>
<path d="M1432.0,504.4 L1469.0,504.4" fill="none" stroke="#444" stroke-width="1.2" stroke-linecap="butt" />
<path d="M1495.5,553.5 L1512.0,553.5" fill="none" stroke="#000" stroke-width="2.0" stroke-linejoin="miter" stroke-linecap="square"/>
<path d="M1495.5,599.0 L1512.0,599.0" fill="none" stroke="#000" stroke-width="2.0" stroke-linejoin="miter" stroke-linecap="square"/>
<path d="M1495.5,636.0 L1512.0,636.0" fill="none" stroke="#000" stroke-width="2.0" stroke-linejoin="miter" stroke-linecap="square"/>
<path d="M1495.5,703.0 L1512.0,703.0" fill="none" stroke="#000" stroke-width="2.0" stroke-linejoin="miter" stroke-linecap="square"/>
<path d="M1512.0,752.0 L1527.0,752.0" fill="none" stroke="#000" stroke-width="2.0" stroke-linejoin="miter" stroke-linecap="square"/>
<path d="M1460.0,752.0 L1512.0,752.0" fill="none" stroke="#000" stroke-width="2.0" stroke-linejoin="miter" stroke-linecap="square"/>
<path d="M169,152 C186,145 205,140.5 222,140.8 C240,141 258,147 290,155.5 C305,158.5 325,154.5 342,155.4 C358,156 375,161 389,170.5 C395,175 399,180 402,184" fill="none" stroke="#000" stroke-width="12" stroke-linecap="butt"/>
<path d="M169,152 C186,145 205,140.5 222,140.8 C240,141 258,147 290,155.5 C305,158.5 325,154.5 342,155.4 C358,156 375,161 389,170.5 C395,175 399,180 402,184" fill="none" stroke="#fff" stroke-width="8.2" stroke-linecap="butt"/>
<path d="M169,152 C186,145 205,140.5 222,140.8 C240,141 258,147 290,155.5 C305,158.5 325,154.5 342,155.4 C358,156 375,161 389,170.5 C395,175 399,180 402,184" fill="none" stroke="url(#dots)" stroke-width="8" stroke-linecap="butt"/>
<path d="M157.5,158 C146,168 137,180 137.5,190 C138,200 145,210 158,218" fill="none" stroke="#000" stroke-width="12" stroke-linecap="butt"/>
<path d="M157.5,158 C146,168 137,180 137.5,190 C138,200 145,210 158,218" fill="none" stroke="#fff" stroke-width="8.2" stroke-linecap="butt"/>
<path d="M157.5,158 C146,168 137,180 137.5,190 C138,200 145,210 158,218" fill="none" stroke="url(#dots)" stroke-width="8" stroke-linecap="butt"/>
<path d="M165.5,147 L172.5,157.5" fill="none" stroke="#000" stroke-width="2" stroke-linejoin="round" stroke-linecap="round" />
<path d="M151.5,153 L161.5,163" fill="none" stroke="#000" stroke-width="2" stroke-linejoin="round" stroke-linecap="round" />
<path d="M156.5,212.5 L164,210.5 C185,218 205,226 226,233.5 C238,235.5 250,239 258.5,242.5 C263,246 264.5,251 265.5,257 L272.5,262 L275,266 L272.5,270.5 C265,275 258,277.5 250.5,278.3 C244,278 240,277 237.6,275.1 C230,268 225,264 221,261.5 C200,249 175,235 156.8,223.8 Z" fill="#fff" stroke="#000" stroke-width="2.0" stroke-linejoin="round" stroke-linecap="round" />
<path d="M156.5,212.5 L164,210.5 C185,218 205,226 226,233.5 C238,235.5 250,239 258.5,242.5 C263,246 264.5,251 265.5,257 L272.5,262 L275,266 L272.5,270.5 C265,275 258,277.5 250.5,278.3 C244,278 240,277 237.6,275.1 C230,268 225,264 221,261.5 C200,249 175,235 156.8,223.8 Z" fill="url(#dots2)" stroke="none" stroke-width="0" stroke-linejoin="round" stroke-linecap="round" />
<path d="M228,236 C222,245 223,258 231,268" fill="none" stroke="#555" stroke-width="0.8" stroke-linejoin="round" stroke-linecap="round" />
<path d="M238,238 C232,248 233,262 240,274" fill="none" stroke="#555" stroke-width="0.8" stroke-linejoin="round" stroke-linecap="round" />
<path d="M248,240 C242,250 243,264 250,277" fill="none" stroke="#333" stroke-width="1.0" stroke-linejoin="round" stroke-linecap="round" />
<path d="M259,244 C253,252 253,266 259,275" fill="none" stroke="#333" stroke-width="1.0" stroke-linejoin="round" stroke-linecap="round" />
<path d="M259,256 C262,254 266,255 270,262" fill="none" stroke="#444" stroke-width="0.8" stroke-linejoin="round" stroke-linecap="round" />
<path d="M393.5,191 L399,184 L410,178.5 L424,188 L437.5,199 L444.4,197.7 L449,202 L450.5,210 L451,216 L456,225 L455,231 L450.5,232.5 L446,227 L442,232 L437,236 L434,239 L427.9,241.7 L420,240 L411,232 L409,227 L401.7,217 L398,204 Z" fill="#fff" stroke="#000" stroke-width="2.0" stroke-linejoin="round" stroke-linecap="round" />
<path d="M393.5,191 L399,184 L410,178.5 L424,188 L437.5,199 L444.4,197.7 L449,202 L450.5,210 L451,216 L456,225 L455,231 L450.5,232.5 L446,227 L442,232 L437,236 L434,239 L427.9,241.7 L420,240 L411,232 L409,227 L401.7,217 L398,204 Z" fill="url(#dots2)" stroke="none" stroke-width="0" stroke-linejoin="round" stroke-linecap="round" />
<path d="M397,193 L410,187 L414,190" fill="none" stroke="#555" stroke-width="0.8" stroke-linejoin="round" stroke-linecap="round" />
<path d="M404,216 L421,209 L428,204 L433,202 L433,210" fill="none" stroke="#555" stroke-width="0.8" stroke-linejoin="round" stroke-linecap="round" />
<path d="M412,226 L426,216 L434,213" fill="none" stroke="#555" stroke-width="0.8" stroke-linejoin="round" stroke-linecap="round" />
<path d="M418,224 L427,236 M421,221 L430,233 M418,224 Q419,220 421,221 M427,236 Q430,236 430,233" fill="none" stroke="#000" stroke-width="1.2" stroke-linejoin="round" stroke-linecap="round" />
<path d="M441,219 L451,230 M444,216 L454,227 M441,219 Q442,215 444,216 M451,230 Q454,230 454,227" fill="none" stroke="#000" stroke-width="1.2" stroke-linejoin="round" stroke-linecap="round" />
<path d="M272.8,267.5 C280,267 287,266.5 292,264 C297,261 297,255 299,251.5 C302,247.5 307,246.5 314,247 C322,247.5 330,250 336,254" fill="none" stroke="#000" stroke-width="4" stroke-linecap="round"/>
<path d="M272.8,267.5 C280,267 287,266.5 292,264 C297,261 297,255 299,251.5 C302,247.5 307,246.5 314,247 C322,247.5 330,250 336,254" fill="none" stroke="#fff" stroke-width="1.6" stroke-linecap="round"/>
<path d="M274,270.4 C276,273 276.5,276 272,279.5 C266,283 252,283 244.6,284.5 C236,287 232,292 235.2,297.5 C238,301 244,302 251,304" fill="none" stroke="#000" stroke-width="4" stroke-linecap="round"/>
<path d="M274,270.4 C276,273 276.5,276 272,279.5 C266,283 252,283 244.6,284.5 C236,287 232,292 235.2,297.5 C238,301 244,302 251,304" fill="none" stroke="#fff" stroke-width="1.6" stroke-linecap="round"/>
<path d="M338.5,256.4 L355.0,263.4" fill="none" stroke="#222" stroke-width="1.0" stroke-linecap="butt" />
<path d="M255.2,305.7 L270.4,311.5" fill="none" stroke="#222" stroke-width="1.0" stroke-linecap="butt" />
<path d="M269.3,246.4 L284.5,234.0" fill="none" stroke="#222" stroke-width="1.0" stroke-linecap="butt" />
<path d="M234.0,216.4 L234.0,234.0" fill="none" stroke="#445" stroke-width="1.3" stroke-linecap="butt" />
<path d="M394.9,164.5 L464.3,164.5 L464.3,207.8 L451.2,207.8" fill="none" stroke="#000" stroke-width="1.6" stroke-linejoin="miter" stroke-linecap="square"/>
<path d="M464.3,188.1 L498.0,188.1" fill="none" stroke="#000" stroke-width="1.6" stroke-linejoin="miter" stroke-linecap="square"/>
<text x="125.5" y="73" font-size="16" font-weight="normal" font-style="normal" text-anchor="start" fill="#000" >0 601 854 B03</text>
<text x="125" y="96" font-size="16" font-weight="normal" font-style="normal" text-anchor="start" fill="#000" >Stand</text>
<text x="125" y="112" font-size="16" font-weight="normal" font-style="normal" text-anchor="start" fill="#000" >Issue</text>
<path d="M171,86 Q175,86 175,90 L175,95 Q175,98 178,99 Q175,100 175,103 L175,108 Q175,112 171,112" fill="none" stroke="#000" stroke-width="1.3" stroke-linejoin="round" stroke-linecap="round" />
<text x="187" y="96" font-size="16" font-weight="normal" font-style="normal" text-anchor="start" fill="#000" >08-12</text>
<path d="M186.0,93.0 L228.0,87.0" fill="none" stroke="#000" stroke-width="1.2" stroke-linecap="butt" />
<text x="187" y="112" font-size="16" font-weight="normal" font-style="normal" text-anchor="start" fill="#000" >14-11-11</text>
<rect x="266.5" y="81" width="124.5" height="29" fill="#000"/>
<text x="269.5" y="103.5" font-size="21.5" font-weight="bold" font-style="normal" text-anchor="start" fill="#fff" >Fig. /Abb. 1</text>
<text x="235" y="215" font-size="20" font-weight="bold" font-style="normal" text-anchor="middle" fill="#000" >6</text>
<text x="505" y="195" font-size="20" font-weight="bold" font-style="normal" text-anchor="middle" fill="#000" >5</text>
<text x="495" y="215" font-size="20" font-weight="bold" font-style="normal" text-anchor="middle" fill="#000" >805</text>
<text x="318.5" y="305" font-size="20" font-weight="bold" font-style="normal" text-anchor="middle" fill="#000" >66</text>
<text x="428" y="322.6" font-size="20" font-weight="bold" font-style="normal" text-anchor="middle" fill="#000" >63</text>
<text x="325" y="351.6" font-size="20" font-weight="bold" font-style="normal" text-anchor="middle" fill="#000" >7</text>
<text x="603" y="274" font-size="20" font-weight="bold" font-style="normal" text-anchor="middle" fill="#000" >24</text>
<text x="291" y="452.7" font-size="20" font-weight="bold" font-style="normal" text-anchor="middle" fill="#000" >24</text>
<text x="398" y="509.6" font-size="20" font-weight="bold" font-style="normal" text-anchor="middle" fill="#000" >804</text>
<text x="500" y="514.3" font-size="20" font-weight="bold" font-style="normal" text-anchor="middle" fill="#000" >68</text>
<text x="537" y="516.4" font-size="20" font-weight="bold" font-style="normal" text-anchor="middle" fill="#000" >53</text>
<text x="682" y="503" font-size="20" font-weight="bold" font-style="normal" text-anchor="middle" fill="#000" >82</text>
<text x="140.7" y="561.5" font-size="20" font-weight="bold" font-style="normal" text-anchor="middle" fill="#000" >65</text>
<text x="416" y="615.7" font-size="20" font-weight="bold" font-style="normal" text-anchor="middle" fill="#000" >102</text>
<text x="469" y="615.7" font-size="20" font-weight="bold" font-style="normal" text-anchor="middle" fill="#000" >101</text>
<text x="266" y="687" font-size="20" font-weight="bold" font-style="normal" text-anchor="middle" fill="#000" >61</text>
<text x="847.7" y="448.2" font-size="20" font-weight="bold" font-style="normal" text-anchor="middle" fill="#000" >810</text>
<text x="940.7" y="448.2" font-size="20" font-weight="bold" font-style="normal" text-anchor="middle" fill="#000" >64</text>
<text x="725" y="566.6" font-size="20" font-weight="bold" font-style="normal" text-anchor="middle" fill="#000" >816</text>
<text x="884" y="576" font-size="20" font-weight="bold" font-style="normal" text-anchor="middle" fill="#000" >64</text>
<text x="922" y="576" font-size="20" font-weight="bold" font-style="normal" text-anchor="middle" fill="#000" >23</text>
<text x="736.5" y="592.6" font-size="20" font-weight="bold" font-style="normal" text-anchor="middle" fill="#000" >1</text>
<text x="525" y="665" font-size="20" font-weight="bold" font-style="normal" text-anchor="middle" fill="#000" >76</text>
<text x="575.4" y="700.5" font-size="20" font-weight="bold" font-style="normal" text-anchor="middle" fill="#000" >75</text>
<text x="1016" y="683.6" font-size="20" font-weight="bold" font-style="normal" text-anchor="middle" fill="#000" >9</text>
<text x="623.5" y="726.5" font-size="20" font-weight="bold" font-style="normal" text-anchor="middle" fill="#000" >816</text>
<text x="516.8" y="752.5" font-size="20" font-weight="bold" font-style="normal" text-anchor="middle" fill="#000" >810</text>
<text x="1137" y="752" font-size="20" font-weight="bold" font-style="normal" text-anchor="middle" fill="#000" >2</text>
<text x="482" y="778" font-size="20" font-weight="bold" font-style="normal" text-anchor="middle" fill="#000" >23</text>
<text x="438" y="804" font-size="20" font-weight="bold" font-style="normal" text-anchor="middle" fill="#000" >64</text>
<text x="602.7" y="851" font-size="20" font-weight="bold" font-style="normal" text-anchor="middle" fill="#000" >64</text>
<text x="949.6" y="849.3" font-size="20" font-weight="bold" font-style="normal" text-anchor="middle" fill="#000" >39</text>
<text x="712" y="868" font-size="20" font-weight="bold" font-style="normal" text-anchor="middle" fill="#000" >131</text>
<text x="773.7" y="898" font-size="20" font-weight="bold" font-style="normal" text-anchor="middle" fill="#000" >808</text>
<text x="1225.6" y="897.2" font-size="20" font-weight="bold" font-style="normal" text-anchor="middle" fill="#000" >31</text>
<text x="737" y="99" font-size="20" font-weight="bold" font-style="normal" text-anchor="middle" fill="#000" >813</text>
<text x="971" y="110" font-size="20" font-weight="bold" font-style="normal" text-anchor="middle" fill="#000" >803</text>
<text x="920" y="169.5" font-size="20" font-weight="bold" font-style="normal" text-anchor="middle" fill="#000" >835</text>
<text x="998" y="221" font-size="20" font-weight="bold" font-style="normal" text-anchor="middle" fill="#000" >846</text>
<text x="1047" y="273.3" font-size="20" font-weight="bold" font-style="normal" text-anchor="middle" fill="#000" >38</text>
<text x="1085.5" y="286.4" font-size="20" font-weight="bold" font-style="normal" text-anchor="middle" fill="#000" >814</text>
<text x="1129.7" y="321.4" font-size="20" font-weight="bold" font-style="normal" text-anchor="middle" fill="#000" >833</text>
<text x="1216.8" y="362.6" font-size="20" font-weight="bold" font-style="normal" text-anchor="middle" fill="#000" >833/1</text>
<text x="1233" y="121" font-size="20" font-weight="bold" font-style="normal" text-anchor="middle" fill="#000" >30</text>
<text x="1481.5" y="114.8" font-size="20" font-weight="bold" font-style="normal" text-anchor="middle" fill="#000" >840</text>
<text x="1427" y="131.4" font-size="20" font-weight="bold" font-style="normal" text-anchor="middle" fill="#000" >29</text>
<text x="1481" y="194.6" font-size="20" font-weight="bold" font-style="normal" text-anchor="middle" fill="#000" >61</text>
<text x="1542.6" y="192.5" font-size="20" font-weight="bold" font-style="normal" text-anchor="middle" fill="#000" >821</text>
<text x="1490.6" y="339" font-size="20" font-weight="bold" font-style="normal" text-anchor="middle" fill="#000" >60</text>
<text x="1333" y="349.6" font-size="20" font-weight="bold" font-style="normal" text-anchor="middle" fill="#000" >45</text>
<text x="1490" y="372.5" font-size="20" font-weight="bold" font-style="normal" text-anchor="middle" fill="#000" >51</text>
<text x="1485" y="393.3" font-size="20" font-weight="bold" font-style="normal" text-anchor="middle" fill="#000" >851</text>
<text x="1543" y="455" font-size="20" font-weight="bold" font-style="normal" text-anchor="middle" fill="#000" >826</text>
<text x="1481.7" y="512" font-size="20" font-weight="bold" font-style="normal" text-anchor="middle" fill="#000" >35</text>
<text x="1482" y="561" font-size="20" font-weight="bold" font-style="normal" text-anchor="middle" fill="#000" >32</text>
<text x="1476.7" y="606.5" font-size="20" font-weight="bold" font-style="normal" text-anchor="middle" fill="#000" >848</text>
<text x="1476.7" y="643.4" font-size="20" font-weight="bold" font-style="normal" text-anchor="middle" fill="#000" >850</text>
<text x="1299.5" y="679.3" font-size="20" font-weight="bold" font-style="normal" text-anchor="middle" fill="#000" >34</text>
<text x="1482.7" y="710.4" font-size="20" font-weight="bold" font-style="normal" text-anchor="middle" fill="#000" >28</text>
<text x="1546" y="759.8" font-size="20" font-weight="bold" font-style="normal" text-anchor="middle" fill="#000" >822</text>
<text x="1304" y="844.3" font-size="20" font-weight="bold" font-style="normal" text-anchor="middle" fill="#000" >60</text>
<text x="1459" y="889.8" font-size="20" font-weight="bold" font-style="normal" text-anchor="middle" fill="#000" >25</text>
<text x="1479" y="985.8" font-size="20" font-weight="bold" font-style="normal" text-anchor="middle" fill="#000" >37</text>
<text x="1466.5" y="932" font-size="20" font-weight="normal" font-style="normal" text-anchor="middle" fill="#000" >SW 17</text>
<text x="707" y="478.5" font-size="20" font-weight="bold" font-style="normal" text-anchor="start" fill="#000" >Typ</text>
<text x="748" y="478.5" font-size="20" font-weight="normal" font-style="italic" text-anchor="start" fill="#000" >B41</text>
<text x="960.6" y="888.5" font-size="14" font-weight="normal" font-style="normal" text-anchor="start" fill="#000" >Fett</text>
<text x="960.6" y="902.6" font-size="14" font-weight="normal" font-style="normal" text-anchor="start" fill="#000" >grease</text>
<text x="960.6" y="916.7" font-size="14" font-weight="normal" font-style="normal" text-anchor="start" fill="#000" >graisse</text>
<text x="960.6" y="930.8" font-size="14" font-weight="normal" font-style="normal" text-anchor="start" fill="#000" >grasa</text>
<text x="1097" y="414" font-size="14.5" font-weight="normal" font-style="normal" text-anchor="start" fill="#000" >18,7mm</text>
<text x="1005" y="472.4" font-size="14.5" font-weight="normal" font-style="normal" text-anchor="start" fill="#000" >16mm</text>
<circle cx="1158" cy="316" r="8" fill="#000"/>
<path d="M1158.0,311.0 L1159.3,314.3 L1162.7,314.5 L1160.1,316.7 L1160.9,320.0 L1158.0,318.2 L1155.1,320.0 L1155.9,316.7 L1153.3,314.5 L1156.7,314.3 Z" fill="#fff"/>
<path d="M1245.0,356 L1251.5,349.5 L1258.0,356 L1251.5,362.5 Z" fill="#000"/>
<circle cx="295.7" cy="224.3" r="13.5" fill="#fff" stroke="#000" stroke-width="1.5"/>
<text x="295.7" y="231.5" font-size="20" font-weight="bold" font-style="normal" text-anchor="middle" fill="#000" >X</text>
<circle cx="460" cy="310.5" r="13.5" fill="#fff" stroke="#000" stroke-width="1.5"/>
<text x="460" y="317.7" font-size="20" font-weight="bold" font-style="normal" text-anchor="middle" fill="#000" >X</text>
<circle cx="687.4" cy="106.8" r="13.5" fill="#fff" stroke="#000" stroke-width="1.5"/>
<text x="687.4" y="114.0" font-size="20" font-weight="bold" font-style="normal" text-anchor="middle" fill="#000" >Y</text>
<circle cx="1174" cy="144.7" r="13.5" fill="#fff" stroke="#000" stroke-width="1.5"/>
<text x="1174" y="151.89999999999998" font-size="20" font-weight="bold" font-style="normal" text-anchor="middle" fill="#000" >Z</text>
<circle cx="1276.4" cy="445.2" r="13.5" fill="#fff" stroke="#000" stroke-width="1.5"/>
<text x="1276.4" y="452.4" font-size="20" font-weight="bold" font-style="normal" text-anchor="middle" fill="#000" >Z</text>
<circle cx="1318.8" cy="1027" r="13.5" fill="#fff" stroke="#000" stroke-width="1.5"/>
<text x="1318.8" y="1034.2" font-size="20" font-weight="bold" font-style="normal" text-anchor="middle" fill="#000" >Y</text>
<circle cx="367" cy="269.8" r="13.5" fill="#000"/>
<text x="367" y="276.8" font-size="19" font-weight="bold" font-style="normal" text-anchor="middle" fill="#fff" >B</text>
<circle cx="282.5" cy="319.5" r="13.5" fill="#000"/>
<text x="282.5" y="326.5" font-size="19" font-weight="bold" font-style="normal" text-anchor="middle" fill="#fff" >A</text>
<circle cx="402.5" cy="351" r="13.5" fill="#000"/>
<text x="402.5" y="358" font-size="19" font-weight="bold" font-style="normal" text-anchor="middle" fill="#fff" >B</text>
<circle cx="314" cy="397" r="13.5" fill="#000"/>
<text x="314" y="404" font-size="19" font-weight="bold" font-style="normal" text-anchor="middle" fill="#fff" >A</text>
<circle cx="619.5" cy="492" r="13.5" fill="#000"/>
<text x="619.5" y="499" font-size="19" font-weight="bold" font-style="normal" text-anchor="middle" fill="#fff" >D</text>
<circle cx="593" cy="510.5" r="13.5" fill="#000"/>
<text x="593" y="517.5" font-size="19" font-weight="bold" font-style="normal" text-anchor="middle" fill="#fff" >C</text>
<circle cx="802.8" cy="526.2" r="13.5" fill="#000"/>
<text x="802.8" y="533.2" font-size="19" font-weight="bold" font-style="normal" text-anchor="middle" fill="#fff" >F</text>
<circle cx="1086" cy="662.8" r="13.5" fill="#000"/>
<text x="1086" y="669.8" font-size="19" font-weight="bold" font-style="normal" text-anchor="middle" fill="#fff" >D</text>
<circle cx="561" cy="771" r="13.5" fill="#000"/>
<text x="561" y="778" font-size="19" font-weight="bold" font-style="normal" text-anchor="middle" fill="#fff" >E</text>
<circle cx="956.9" cy="780.5" r="13.5" fill="#000"/>
<text x="956.9" y="787.5" font-size="19" font-weight="bold" font-style="normal" text-anchor="middle" fill="#fff" >E</text>
<circle cx="1048" cy="898" r="13.5" fill="#000"/>
<text x="1048" y="905" font-size="19" font-weight="bold" font-style="normal" text-anchor="middle" fill="#fff" >F</text>
<circle cx="873.4" cy="979.5" r="13.5" fill="#000"/>
<text x="873.4" y="986.5" font-size="19" font-weight="bold" font-style="normal" text-anchor="middle" fill="#fff" >C</text>
<text x="128.7" y="996.6" font-size="16" font-weight="normal" font-style="normal" text-anchor="start" fill="#000" >&#196;nderungen vorbehalten</text>
<text x="128.7" y="1013.8000000000001" font-size="16" font-weight="normal" font-style="normal" text-anchor="start" fill="#000" >Modifications reserved</text>
<text x="128.7" y="1031.0" font-size="16" font-weight="normal" font-style="normal" text-anchor="start" fill="#000" >Modifications reservees</text>
<text x="128.7" y="1048.2" font-size="16" font-weight="normal" font-style="normal" text-anchor="start" fill="#000" >Salvo modificaciones</text>
<path d="M356,990 L363.5,982.5 L371,990 L363.5,997.5 Z" fill="#000"/>
<text x="377" y="994.7" font-size="16" font-weight="normal" font-style="normal" text-anchor="start" fill="#000" >rot</text>
<text x="377" y="1013.7" font-size="16" font-weight="normal" font-style="normal" text-anchor="start" fill="#000" >red</text>
<text x="377" y="1032.7" font-size="16" font-weight="normal" font-style="normal" text-anchor="start" fill="#000" >rouge</text>
<text x="377" y="1051.7" font-size="16" font-weight="normal" font-style="normal" text-anchor="start" fill="#000" >rojo</text>
<circle cx="437" cy="989.5" r="9.2" fill="#000"/>
<path d="M437.0,983.8 L438.5,987.5 L442.4,987.7 L439.4,990.3 L440.4,994.1 L437.0,992.0 L433.6,994.1 L434.6,990.3 L431.6,987.7 L435.5,987.5 Z" fill="#fff"/>
<text x="454" y="994.7" font-size="16" font-weight="normal" font-style="normal" text-anchor="start" fill="#000" >blau</text>
<text x="454" y="1013.7" font-size="16" font-weight="normal" font-style="normal" text-anchor="start" fill="#000" >blue</text>
<text x="454" y="1032.7" font-size="16" font-weight="normal" font-style="normal" text-anchor="start" fill="#000" >bleu</text>
<text x="454" y="1051.7" font-size="16" font-weight="normal" font-style="normal" text-anchor="start" fill="#000" >azul</text>
</svg></body></html>
